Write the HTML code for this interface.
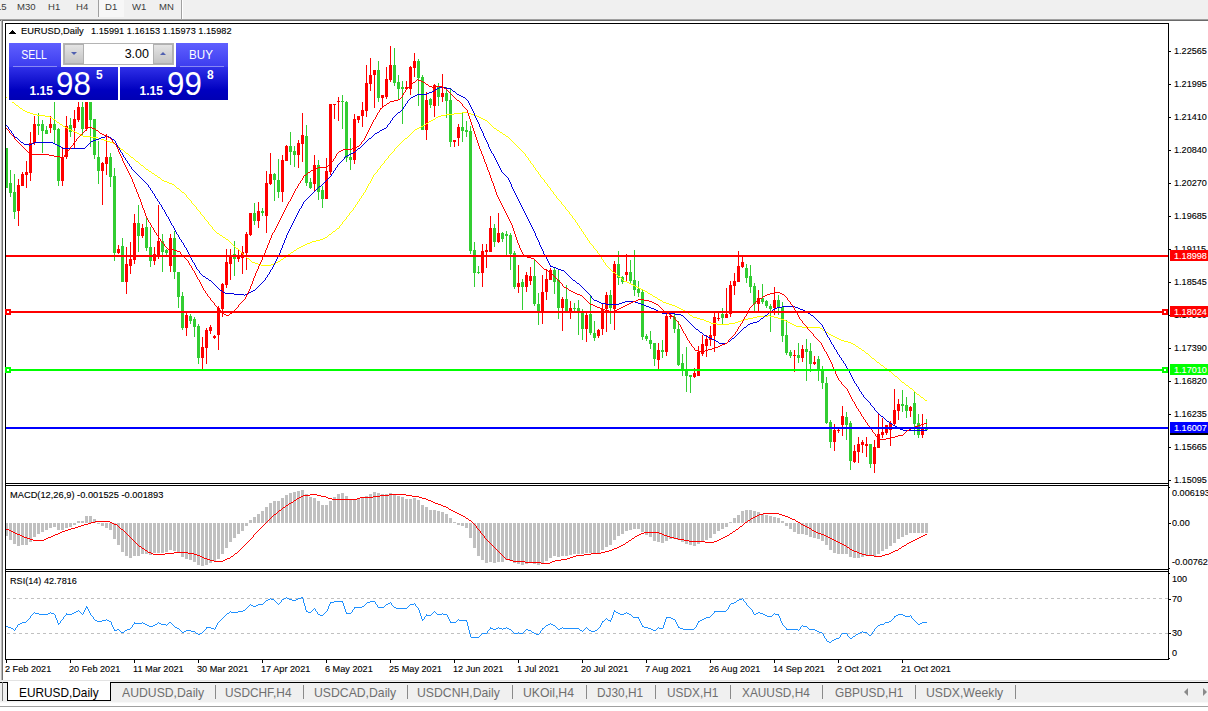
<!DOCTYPE html><html><head><meta charset="utf-8"><title>EURUSD,Daily</title><style>

*{margin:0;padding:0;box-sizing:border-box}
html,body{width:1208px;height:711px;overflow:hidden;background:#f0f0f0}
body{position:relative;font-family:"Liberation Sans",sans-serif;font-size:9.2px;color:#000}
.a{position:absolute;white-space:nowrap;line-height:1}
.ax{-webkit-text-stroke:0.12px #000;position:absolute;left:1173.6px;white-space:nowrap;line-height:10px;height:10px;font-size:9.9px;transform:scaleX(.92);transform-origin:0 50%}
.dt{-webkit-text-stroke:0.12px #000;position:absolute;top:663.67px;white-space:nowrap;line-height:10px;font-size:9.6px;transform:scaleX(.953);transform-origin:0 50%}
.tb{position:absolute;top:2.3px;font-size:9.8px;color:#3c3c3c;line-height:10px;white-space:nowrap;transform:scaleX(.975);transform-origin:0 50%}
.tab{position:absolute;top:686px;font-size:12.2px;line-height:14px;color:#6e6e6e;white-space:nowrap;transform:scaleX(.972);transform-origin:0 50%}
.st{-webkit-text-stroke:0.12px #000}
.sep{position:absolute;top:685px;width:1px;height:14px;background:#8a8a8a}
.pl{position:absolute;left:1170px;width:38px;height:11px;color:#fff;white-space:nowrap}
.pl span{-webkit-text-stroke:0.12px #fff;position:absolute;left:3.6px;top:0.65px;font-size:9.9px;line-height:10px;transform:scaleX(.92);transform-origin:0 50%}

</style></head><body>
<div class="a" style="left:0;top:0;width:1208px;height:19px;background:#f0f0f0"></div>
<div class="a" style="left:98px;top:0;width:26px;height:17px;background:#f7f7f7;border-left:1px solid #a0a0a0"></div>
<div class="tb" style="left:-4px">15</div>
<div class="tb" style="left:17.2px">M30</div>
<div class="tb" style="left:48px">H1</div>
<div class="tb" style="left:75.5px">H4</div>
<div class="tb" style="left:104.5px">D1</div>
<div class="tb" style="left:131.5px">W1</div>
<div class="tb" style="left:158.5px">MN</div>
<div class="a" style="left:181px;top:0;width:1px;height:19px;background:#a0a0a0"></div><div class="a" style="left:182px;top:0;width:1px;height:19px;background:#fff"></div>
<div class="a" style="left:0;top:19px;width:1208px;height:1px;background:#a0a0a0"></div>
<div class="a" style="left:0;top:20px;width:1208px;height:1px;background:#696969"></div>
<div class="a" style="left:3px;top:21px;width:1205px;height:659px;background:#fff"></div>
<div class="a" style="left:1px;top:20px;width:1px;height:660px;background:#b8b8b8"></div><div class="a" style="left:2px;top:20px;width:1px;height:660px;background:#707070"></div>
<svg width="1208" height="711" viewBox="0 0 1208 711" shape-rendering="crispEdges" style="position:absolute;left:0;top:0">
<defs><clipPath id="cm"><rect x="6" y="24" width="1162" height="459"/></clipPath><clipPath id="c2"><rect x="6" y="486" width="1162" height="83"/></clipPath><clipPath id="c3"><rect x="6" y="572" width="1162" height="87"/></clipPath></defs>
<g clip-path="url(#cm)">
<path fill="#32cd32" d="M6 148h1v40h-1zM5 148h3v40h-3zM10 170h1v27h-1zM9 183h3v10h-3zM14 174h1v45h-1zM13 192h3v20h-3zM38 113h1v22h-1zM37 124h3v2h-3zM42 120h1v33h-1zM41 124h3v7h-3zM46 126h1v8h-1zM45 130h3v4h-3zM54 102h1v41h-1zM53 124h3v6h-3zM58 128h1v58h-1zM57 129h3v52h-3zM70 118h1v19h-1zM69 125h3v7h-3zM82 101h1v35h-1zM81 107h3v22h-3zM90 98h1v49h-1zM89 100h3v20h-3zM94 119h1v40h-1zM93 119h3v36h-3zM98 141h1v43h-1zM97 157h3v14h-3zM110 153h1v34h-1zM109 157h3v20h-3zM114 168h1v93h-1zM113 176h3v77h-3zM122 238h1v44h-1zM121 246h3v36h-3zM138 205h1v47h-1zM137 223h3v13h-3zM146 218h1v33h-1zM145 227h3v21h-3zM150 227h1v40h-1zM149 247h3v14h-3zM162 234h1v38h-1zM161 241h3v11h-3zM166 249h1v8h-1zM165 250h3v3h-3zM174 231h1v48h-1zM173 238h3v34h-3zM178 272h1v36h-1zM177 272h3v25h-3zM182 292h1v38h-1zM181 296h3v32h-3zM190 314h1v10h-1zM189 316h3v5h-3zM194 317h1v20h-1zM193 319h3v8h-3zM198 324h1v40h-1zM197 326h3v32h-3zM234 241h1v35h-1zM233 254h3v5h-3zM254 203h1v22h-1zM253 213h3v8h-3zM262 208h1v8h-1zM261 211h3v2h-3zM274 173h1v28h-1zM273 174h3v6h-3zM278 159h1v39h-1zM277 180h3v12h-3zM290 132h1v33h-1zM289 146h3v6h-3zM294 146h1v21h-1zM293 151h3v4h-3zM306 125h1v61h-1zM305 136h3v47h-3zM310 178h1v11h-1zM309 182h3v6h-3zM318 160h1v40h-1zM317 165h3v27h-3zM322 186h1v22h-1zM321 190h3v9h-3zM342 95h1v34h-1zM341 101h3v1h-3zM346 101h1v61h-1zM345 102h3v56h-3zM350 138h1v32h-1zM349 157h3v3h-3zM378 61h1v41h-1zM377 70h3v28h-3zM394 48h1v38h-1zM393 65h3v18h-3zM398 75h1v24h-1zM397 82h3v7h-3zM402 81h1v43h-1zM401 87h3v2h-3zM418 59h1v47h-1zM417 61h3v17h-3zM422 75h1v55h-1zM421 77h3v53h-3zM430 98h1v10h-1zM429 99h3v6h-3zM438 83h1v23h-1zM437 86h3v11h-3zM446 87h1v31h-1zM445 93h3v8h-3zM450 88h1v59h-1zM449 100h3v42h-3zM462 113h1v29h-1zM461 127h3v4h-3zM466 121h1v16h-1zM465 130h3v2h-3zM470 126h1v128h-1zM469 131h3v120h-3zM474 242h1v45h-1zM473 250h3v23h-3zM478 266h1v8h-1zM477 272h3v1h-3zM494 224h1v23h-1zM493 228h3v14h-3zM502 232h1v10h-1zM501 233h3v6h-3zM506 231h1v25h-1zM505 234h3v2h-3zM510 233h1v37h-1zM509 235h3v19h-3zM514 251h1v38h-1zM513 253h3v34h-3zM522 279h1v31h-1zM521 282h3v5h-3zM534 260h1v46h-1zM533 276h3v28h-3zM538 293h1v32h-1zM537 304h3v9h-3zM554 267h1v27h-1zM553 270h3v12h-3zM558 269h1v50h-1zM557 280h3v28h-3zM566 285h1v27h-1zM565 299h3v12h-3zM574 303h1v10h-1zM573 308h3v1h-3zM578 300h1v35h-1zM577 308h3v4h-3zM582 309h1v31h-1zM581 311h3v18h-3zM590 296h1v39h-1zM589 314h3v19h-3zM594 321h1v20h-1zM593 333h3v5h-3zM610 290h1v34h-1zM609 295h3v13h-3zM618 251h1v34h-1zM617 264h3v14h-3zM622 276h1v8h-1zM621 277h3v5h-3zM630 260h1v24h-1zM629 272h3v9h-3zM634 250h1v46h-1zM633 280h3v10h-3zM638 281h1v16h-1zM637 289h3v4h-3zM642 290h1v50h-1zM641 292h3v45h-3zM646 334h1v7h-1zM645 336h3v3h-3zM650 331h1v18h-1zM649 340h3v4h-3zM654 343h1v23h-1zM653 343h3v16h-3zM662 340h1v18h-1zM661 350h3v2h-3zM674 313h1v20h-1zM673 317h3v12h-3zM678 321h1v45h-1zM677 329h3v36h-3zM682 354h1v22h-1zM681 363h3v7h-3zM686 347h1v45h-1zM685 369h3v7h-3zM690 375h1v18h-1zM689 375h3v2h-3zM722 308h1v16h-1zM721 314h3v4h-3zM746 264h1v19h-1zM745 268h3v10h-3zM750 265h1v28h-1zM749 276h3v11h-3zM754 283h1v30h-1zM753 286h3v18h-3zM762 284h1v20h-1zM761 298h3v4h-3zM766 300h1v8h-1zM765 301h3v5h-3zM770 304h1v28h-1zM769 306h3v3h-3zM778 295h1v20h-1zM777 300h3v8h-3zM782 302h1v40h-1zM781 307h3v29h-3zM786 320h1v35h-1zM785 335h3v18h-3zM790 350h1v8h-1zM789 352h3v4h-3zM798 343h1v20h-1zM797 355h3v3h-3zM806 339h1v42h-1zM805 349h3v3h-3zM810 343h1v29h-1zM809 351h3v13h-3zM818 356h1v25h-1zM817 359h3v11h-3zM822 366h1v23h-1zM821 369h3v14h-3zM826 377h1v47h-1zM825 383h3v40h-3zM830 420h1v28h-1zM829 422h3v20h-3zM846 412h1v28h-1zM845 417h3v8h-3zM850 421h1v49h-1zM849 423h3v38h-3zM870 444h1v24h-1zM869 444h3v20h-3zM902 390h1v22h-1zM901 404h3v2h-3zM906 397h1v21h-1zM905 405h3v6h-3zM914 391h1v44h-1zM913 403h3v21h-3zM918 414h1v24h-1zM917 423h3v12h-3zM926 419h1v12h-1zM925 428h3v2h-3z"/>
<path fill="#ff0000" d="M18 179h1v47h-1zM17 185h3v26h-3zM22 172h1v14h-1zM21 174h3v12h-3zM26 161h1v27h-1zM25 172h3v3h-3zM30 132h1v49h-1zM29 143h3v30h-3zM34 116h1v29h-1zM33 124h3v19h-3zM50 116h1v17h-1zM49 124h3v4h-3zM62 147h1v39h-1zM61 157h3v24h-3zM66 116h1v43h-1zM65 126h3v31h-3zM74 110h1v38h-1zM73 119h3v9h-3zM78 102h1v20h-1zM77 107h3v13h-3zM86 96h1v35h-1zM85 98h3v31h-3zM102 162h1v43h-1zM101 163h3v8h-3zM106 134h1v41h-1zM105 157h3v7h-3zM118 245h1v9h-1zM117 249h3v4h-3zM126 247h1v47h-1zM125 264h3v18h-3zM130 242h1v32h-1zM129 259h3v7h-3zM134 214h1v50h-1zM133 223h3v37h-3zM142 224h1v14h-1zM141 228h3v8h-3zM154 247h1v18h-1zM153 254h3v7h-3zM158 205h1v54h-1zM157 241h3v16h-3zM170 234h1v38h-1zM169 238h3v28h-3zM186 312h1v24h-1zM185 315h3v13h-3zM202 337h1v33h-1zM201 347h3v11h-3zM206 328h1v36h-1zM205 330h3v18h-3zM210 325h1v9h-1zM209 327h3v4h-3zM214 335h1v4h-1zM213 336h3v2h-3zM218 306h1v44h-1zM217 308h3v27h-3zM222 283h1v34h-1zM221 284h3v25h-3zM226 249h1v39h-1zM225 262h3v23h-3zM230 249h1v31h-1zM229 255h3v9h-3zM238 250h1v12h-1zM237 255h3v4h-3zM242 246h1v28h-1zM241 252h3v6h-3zM246 232h1v38h-1zM245 234h3v19h-3zM250 213h1v23h-1zM249 213h3v22h-3zM258 202h1v26h-1zM257 211h3v10h-3zM266 171h1v62h-1zM265 183h3v33h-3zM270 153h1v32h-1zM269 174h3v10h-3zM282 155h1v47h-1zM281 160h3v32h-3zM286 145h1v16h-1zM285 146h3v15h-3zM298 140h1v28h-1zM297 143h3v12h-3zM302 113h1v49h-1zM301 135h3v9h-3zM314 155h1v37h-1zM313 165h3v19h-3zM326 158h1v41h-1zM325 171h3v28h-3zM330 104h1v71h-1zM329 104h3v68h-3zM334 104h1v15h-1zM333 104h3v1h-3zM338 97h1v24h-1zM337 101h3v1h-3zM354 114h1v50h-1zM353 119h3v41h-3zM358 116h1v7h-1zM357 116h3v4h-3zM362 102h1v25h-1zM361 110h3v6h-3zM366 65h1v52h-1zM365 83h3v28h-3zM370 58h1v33h-1zM369 75h3v9h-3zM374 70h1v38h-1zM373 70h3v5h-3zM382 95h1v12h-1zM381 95h3v3h-3zM386 67h1v32h-1zM385 79h3v18h-3zM390 46h1v36h-1zM389 65h3v15h-3zM406 81h1v9h-1zM405 87h3v2h-3zM410 66h1v29h-1zM409 67h3v22h-3zM414 53h1v24h-1zM413 61h3v7h-3zM426 92h1v48h-1zM425 100h3v30h-3zM434 84h1v33h-1zM433 85h3v21h-3zM442 74h1v28h-1zM441 93h3v4h-3zM454 140h1v7h-1zM453 140h3v2h-3zM458 124h1v22h-1zM457 127h3v11h-3zM482 244h1v43h-1zM481 251h3v22h-3zM486 244h1v24h-1zM485 250h3v2h-3zM490 216h1v36h-1zM489 228h3v24h-3zM498 213h1v30h-1zM497 233h3v9h-3zM518 265h1v28h-1zM517 283h3v4h-3zM526 272h1v20h-1zM525 275h3v12h-3zM530 267h1v18h-1zM529 276h3v5h-3zM542 275h1v49h-1zM541 292h3v21h-3zM546 269h1v31h-1zM545 279h3v13h-3zM550 268h1v12h-1zM549 270h3v10h-3zM562 297h1v34h-1zM561 299h3v9h-3zM570 301h1v18h-1zM569 308h3v3h-3zM586 312h1v30h-1zM585 315h3v14h-3zM598 329h1v9h-1zM597 330h3v6h-3zM602 304h1v31h-1zM601 309h3v20h-3zM606 292h1v40h-1zM605 295h3v14h-3zM614 261h1v69h-1zM613 264h3v45h-3zM626 254h1v27h-1zM625 272h3v3h-3zM658 343h1v26h-1zM657 350h3v10h-3zM666 313h1v43h-1zM665 316h3v36h-3zM670 313h1v6h-1zM669 316h3v1h-3zM694 368h1v10h-1zM693 373h3v4h-3zM698 346h1v30h-1zM697 352h3v24h-3zM702 335h1v21h-1zM701 344h3v10h-3zM706 335h1v22h-1zM705 339h3v7h-3zM710 326h1v20h-1zM709 335h3v5h-3zM714 313h1v39h-1zM713 317h3v19h-3zM718 313h1v8h-1zM717 318h3v1h-3zM726 288h1v30h-1zM725 314h3v4h-3zM730 281h1v36h-1zM729 285h3v29h-3zM734 273h1v22h-1zM733 281h3v5h-3zM738 251h1v31h-1zM737 266h3v16h-3zM742 257h1v11h-1zM741 262h3v5h-3zM758 290h1v21h-1zM757 298h3v6h-3zM774 287h1v28h-1zM773 300h3v8h-3zM794 350h1v22h-1zM793 355h3v1h-3zM802 345h1v17h-1zM801 349h3v9h-3zM814 356h1v9h-1zM813 362h3v2h-3zM834 424h1v27h-1zM833 430h3v12h-3zM838 427h1v6h-1zM837 430h3v1h-3zM842 406h1v30h-1zM841 416h3v9h-3zM854 445h1v18h-1zM853 451h3v11h-3zM858 437h1v26h-1zM857 444h3v8h-3zM862 440h1v13h-1zM861 442h3v3h-3zM866 437h1v20h-1zM865 444h3v2h-3zM874 440h1v33h-1zM873 447h3v17h-3zM878 414h1v34h-1zM877 434h3v14h-3zM882 418h1v20h-1zM881 432h3v3h-3zM886 425h1v10h-1zM885 425h3v8h-3zM890 421h1v25h-1zM889 423h3v7h-3zM894 389h1v36h-1zM893 410h3v14h-3zM898 399h1v21h-1zM897 404h3v7h-3zM910 406h1v11h-1zM909 407h3v4h-3zM922 414h1v24h-1zM921 429h3v6h-3z"/>
<path fill="#ffff00" d="M6 97h2v1h-2zM8 98h1v1h-1zM9 99h1v1h-1zM10 100h1v1h-1zM11 101h1v1h-1zM12 102h2v1h-2zM14 103h1v1h-1zM15 104h1v1h-1zM16 105h2v1h-2zM18 106h1v1h-1zM19 107h1v1h-1zM20 108h2v1h-2zM22 109h1v1h-1zM23 110h2v1h-2zM25 111h2v1h-2zM27 112h3v1h-3zM30 113h3v1h-3zM33 114h4v1h-4zM37 115h8v1h-8zM45 116h5v1h-5zM50 117h2v1h-2zM52 118h1v1h-1zM53 119h2v1h-2zM55 120h1v1h-1zM56 121h1v1h-1zM57 122h2v1h-2zM59 123h1v1h-1zM60 124h2v1h-2zM62 125h1v1h-1zM63 126h2v1h-2zM65 127h2v1h-2zM67 128h2v1h-2zM69 129h2v1h-2zM71 130h2v1h-2zM73 131h2v1h-2zM75 132h2v1h-2zM77 133h2v1h-2zM79 134h2v1h-2zM81 135h2v1h-2zM83 136h8v1h-8zM91 137h7v1h-7zM98 138h3v1h-3zM101 139h3v1h-3zM104 140h3v1h-3zM107 141h3v1h-3zM110 142h3v1h-3zM113 143h2v1h-2zM115 144h1v1h-1zM116 145h2v1h-2zM118 146h1v1h-1zM119 147h1v1h-1zM120 148h1v1h-1zM121 149h2v1h-2zM123 150h1v1h-1zM124 151h1v1h-1zM125 152h1v1h-1zM126 153h2v1h-2zM128 154h1v1h-1zM129 155h1v1h-1zM130 156h1v1h-1zM131 157h2v1h-2zM133 158h1v1h-1zM134 159h1v1h-1zM135 160h1v1h-1zM136 161h2v1h-2zM138 162h1v1h-1zM139 163h1v1h-1zM140 164h1v1h-1zM141 165h2v1h-2zM143 166h1v1h-1zM144 167h1v1h-1zM145 168h1v1h-1zM146 169h2v1h-2zM148 170h1v1h-1zM149 171h2v1h-2zM151 172h1v1h-1zM152 173h2v1h-2zM154 174h1v1h-1zM155 175h2v1h-2zM157 176h1v1h-1zM158 177h2v1h-2zM160 178h1v1h-1zM161 179h1v1h-1zM162 180h2v1h-2zM164 181h3v1h-3zM167 182h2v1h-2zM169 183h3v1h-3zM172 184h2v1h-2zM174 185h1v1h-1zM175 186h1v1h-1zM176 187h1v1h-1zM177 188h2v1h-2zM179 189h1v1h-1zM180 190h1v1h-1zM181 191h1v1h-1zM182 192h2v1h-2zM184 193h1v1h-1zM185 194h1v1h-1zM186 195h1v2h-1zM187 197h1v1h-1zM188 198h1v1h-1zM189 199h1v1h-1zM190 200h1v1h-1zM191 201h1v2h-1zM192 203h1v1h-1zM193 204h1v1h-1zM194 205h1v1h-1zM195 206h1v1h-1zM196 207h1v2h-1zM197 209h1v1h-1zM198 210h1v1h-1zM199 211h1v1h-1zM200 212h1v2h-1zM201 214h1v1h-1zM202 215h1v1h-1zM203 216h1v1h-1zM204 217h1v2h-1zM205 219h1v1h-1zM206 220h1v1h-1zM207 221h1v1h-1zM208 222h1v2h-1zM209 224h1v1h-1zM210 225h1v1h-1zM211 226h1v1h-1zM212 227h1v2h-1zM213 229h1v1h-1zM214 230h1v1h-1zM215 231h1v1h-1zM216 232h1v1h-1zM217 233h2v1h-2zM219 234h1v1h-1zM220 235h2v1h-2zM222 236h1v1h-1zM223 237h2v1h-2zM225 238h1v1h-1zM226 239h2v1h-2zM228 240h1v1h-1zM229 241h1v1h-1zM230 242h1v1h-1zM231 243h1v1h-1zM232 244h1v1h-1zM233 245h1v1h-1zM234 246h1v1h-1zM235 247h1v1h-1zM236 248h2v1h-2zM238 249h1v1h-1zM239 250h1v1h-1zM240 251h1v1h-1zM241 252h1v1h-1zM242 253h1v1h-1zM243 254h1v1h-1zM244 255h1v1h-1zM245 256h1v1h-1zM246 257h1v1h-1zM247 258h2v1h-2zM249 259h1v1h-1zM250 260h1v1h-1zM251 261h1v1h-1zM252 262h3v1h-3zM255 263h3v1h-3zM258 264h3v1h-3zM261 265h10v1h-10zM271 264h3v1h-3zM274 263h2v1h-2zM276 262h2v1h-2zM278 261h2v1h-2zM280 260h1v1h-1zM281 259h2v1h-2zM283 258h1v1h-1zM284 257h2v1h-2zM286 256h1v1h-1zM287 255h1v1h-1zM288 254h2v1h-2zM290 253h1v1h-1zM291 252h2v1h-2zM293 251h1v1h-1zM294 250h2v1h-2zM296 249h1v1h-1zM297 248h2v1h-2zM299 247h2v1h-2zM301 246h2v1h-2zM303 245h2v1h-2zM305 244h2v1h-2zM307 243h3v1h-3zM310 242h2v1h-2zM312 241h4v1h-4zM316 240h4v1h-4zM320 239h3v1h-3zM323 238h2v1h-2zM325 237h2v1h-2zM327 236h1v1h-1zM328 235h1v1h-1zM329 234h2v1h-2zM331 233h1v1h-1zM332 232h1v1h-1zM333 231h2v1h-2zM335 230h1v1h-1zM336 229h1v1h-1zM337 228h2v1h-2zM339 226h1v2h-1zM340 225h1v1h-1zM341 224h1v1h-1zM342 222h1v2h-1zM343 221h1v1h-1zM344 220h1v1h-1zM345 219h1v1h-1zM346 217h1v2h-1zM347 216h1v1h-1zM348 215h1v1h-1zM349 213h1v2h-1zM350 212h1v1h-1zM351 211h1v1h-1zM352 210h1v1h-1zM353 208h1v2h-1zM354 207h1v1h-1zM355 205h1v2h-1zM356 204h1v1h-1zM357 202h1v2h-1zM358 201h1v1h-1zM359 199h1v2h-1zM360 198h1v1h-1zM361 196h1v2h-1zM362 195h1v1h-1zM363 193h1v2h-1zM364 192h1v1h-1zM365 190h1v2h-1zM366 188h1v2h-1zM367 186h1v2h-1zM368 184h1v2h-1zM369 183h1v1h-1zM370 181h1v2h-1zM371 179h1v2h-1zM372 177h1v2h-1zM373 175h1v2h-1zM374 174h1v1h-1zM375 173h1v1h-1zM376 172h1v1h-1zM377 170h1v2h-1zM378 169h1v1h-1zM379 168h1v1h-1zM380 166h1v2h-1zM381 165h1v1h-1zM382 164h1v1h-1zM383 163h1v1h-1zM384 161h1v2h-1zM385 160h1v1h-1zM386 159h1v1h-1zM387 158h1v1h-1zM388 156h1v2h-1zM389 155h1v1h-1zM390 154h1v1h-1zM391 153h1v1h-1zM392 152h1v1h-1zM393 151h1v1h-1zM394 149h1v2h-1zM395 148h1v1h-1zM396 147h1v1h-1zM397 146h1v1h-1zM398 145h1v1h-1zM399 144h1v1h-1zM400 143h1v1h-1zM401 142h1v1h-1zM402 141h1v1h-1zM403 140h1v1h-1zM404 139h1v1h-1zM405 138h2v1h-2zM407 137h1v1h-1zM408 136h1v1h-1zM409 135h1v1h-1zM410 134h1v1h-1zM411 133h1v1h-1zM412 132h1v1h-1zM413 131h1v1h-1zM414 130h1v1h-1zM415 129h2v1h-2zM417 128h2v1h-2zM419 127h2v1h-2zM421 126h2v1h-2zM423 125h2v1h-2zM425 124h1v1h-1zM426 123h2v1h-2zM428 122h1v1h-1zM429 121h2v1h-2zM431 120h2v1h-2zM433 119h2v1h-2zM435 118h1v1h-1zM436 117h2v1h-2zM438 116h3v1h-3zM441 115h5v1h-5zM446 114h8v1h-8zM454 113h8v1h-8zM462 112h6v1h-6zM468 113h3v1h-3zM471 114h3v1h-3zM474 115h3v1h-3zM477 116h2v1h-2zM479 117h2v1h-2zM481 118h2v1h-2zM483 119h2v1h-2zM485 120h2v1h-2zM487 121h1v1h-1zM488 122h1v1h-1zM489 123h1v1h-1zM490 124h1v1h-1zM491 125h1v1h-1zM492 126h1v1h-1zM493 127h1v1h-1zM494 128h2v1h-2zM496 129h1v1h-1zM497 130h2v1h-2zM499 131h1v1h-1zM500 132h2v1h-2zM502 133h1v1h-1zM503 134h2v1h-2zM505 135h1v1h-1zM506 136h2v1h-2zM508 137h1v1h-1zM509 138h1v1h-1zM510 139h1v1h-1zM511 140h1v1h-1zM512 141h1v1h-1zM513 142h1v1h-1zM514 143h1v1h-1zM515 144h1v1h-1zM516 145h1v1h-1zM517 146h1v1h-1zM518 147h1v1h-1zM519 148h1v1h-1zM520 149h1v1h-1zM521 150h1v1h-1zM522 151h1v1h-1zM523 152h1v1h-1zM524 153h1v1h-1zM525 154h1v2h-1zM526 156h1v1h-1zM527 157h1v1h-1zM528 158h1v2h-1zM529 160h1v1h-1zM530 161h1v2h-1zM531 163h1v1h-1zM532 164h1v1h-1zM533 165h1v2h-1zM534 167h1v1h-1zM535 168h1v2h-1zM536 170h1v1h-1zM537 171h1v1h-1zM538 172h1v2h-1zM539 174h1v1h-1zM540 175h1v2h-1zM541 177h1v1h-1zM542 178h1v1h-1zM543 179h1v1h-1zM544 180h1v2h-1zM545 182h1v1h-1zM546 183h1v1h-1zM547 184h1v2h-1zM548 186h1v1h-1zM549 187h1v1h-1zM550 188h1v2h-1zM551 190h1v1h-1zM552 191h1v1h-1zM553 192h1v2h-1zM554 194h1v1h-1zM555 195h1v1h-1zM556 196h1v2h-1zM557 198h1v1h-1zM558 199h1v1h-1zM559 200h1v1h-1zM560 201h1v1h-1zM561 202h1v2h-1zM562 204h1v1h-1zM563 205h1v1h-1zM564 206h1v1h-1zM565 207h1v2h-1zM566 209h1v1h-1zM567 210h1v1h-1zM568 211h1v1h-1zM569 212h1v2h-1zM570 214h1v1h-1zM571 215h1v1h-1zM572 216h1v2h-1zM573 218h1v1h-1zM574 219h1v1h-1zM575 220h1v2h-1zM576 222h1v1h-1zM577 223h1v2h-1zM578 225h1v1h-1zM579 226h1v2h-1zM580 228h1v1h-1zM581 229h1v2h-1zM582 231h1v1h-1zM583 232h1v2h-1zM584 234h1v1h-1zM585 235h1v2h-1zM586 237h1v1h-1zM587 238h1v2h-1zM588 240h1v1h-1zM589 241h1v2h-1zM590 243h1v1h-1zM591 244h1v1h-1zM592 245h1v1h-1zM593 246h1v2h-1zM594 248h1v1h-1zM595 249h1v1h-1zM596 250h1v1h-1zM597 251h1v2h-1zM598 253h1v1h-1zM599 254h1v2h-1zM600 256h1v1h-1zM601 257h1v2h-1zM602 259h1v1h-1zM603 260h1v2h-1zM604 262h1v1h-1zM605 263h1v2h-1zM606 265h1v1h-1zM607 266h1v1h-1zM608 267h1v1h-1zM609 268h1v1h-1zM610 269h1v1h-1zM611 270h1v1h-1zM612 271h1v1h-1zM613 272h2v1h-2zM615 273h1v1h-1zM616 274h1v1h-1zM617 275h1v1h-1zM618 276h2v1h-2zM620 277h1v1h-1zM621 278h1v1h-1zM622 279h1v1h-1zM623 280h1v1h-1zM624 281h3v1h-3zM627 282h2v1h-2zM629 283h2v1h-2zM631 284h2v1h-2zM633 285h2v1h-2zM635 286h2v1h-2zM637 287h2v1h-2zM639 288h2v1h-2zM641 289h2v1h-2zM643 290h2v1h-2zM645 291h2v1h-2zM647 292h1v1h-1zM648 293h2v1h-2zM650 294h2v1h-2zM652 295h1v1h-1zM653 296h2v1h-2zM655 297h2v1h-2zM657 298h1v1h-1zM658 299h2v1h-2zM660 300h2v1h-2zM662 301h1v1h-1zM663 302h3v1h-3zM666 303h3v1h-3zM669 304h3v1h-3zM672 305h3v1h-3zM675 306h2v1h-2zM677 307h2v1h-2zM679 308h2v1h-2zM681 309h2v1h-2zM683 310h2v1h-2zM685 311h1v1h-1zM686 312h2v1h-2zM688 313h1v1h-1zM689 314h1v1h-1zM690 315h2v1h-2zM692 316h1v1h-1zM693 317h4v1h-4zM697 318h3v1h-3zM700 319h4v1h-4zM704 320h2v1h-2zM706 321h3v1h-3zM709 322h2v1h-2zM711 323h6v1h-6zM717 324h12v1h-12zM729 323h6v1h-6zM735 322h3v1h-3zM738 321h3v1h-3zM741 320h3v1h-3zM744 319h4v1h-4zM748 318h5v1h-5zM753 317h4v1h-4zM757 316h11v1h-11zM768 315h2v1h-2zM770 316h4v1h-4zM774 317h4v1h-4zM778 318h3v1h-3zM781 319h3v1h-3zM784 320h2v1h-2zM786 321h2v1h-2zM788 322h2v1h-2zM790 323h2v1h-2zM792 324h2v1h-2zM794 325h2v1h-2zM796 326h6v1h-6zM802 327h18v1h-18zM820 328h2v1h-2zM822 329h1v1h-1zM823 330h2v1h-2zM825 331h1v1h-1zM826 332h2v1h-2zM828 333h1v1h-1zM829 334h2v1h-2zM831 335h2v1h-2zM833 336h2v1h-2zM835 337h2v1h-2zM837 338h2v1h-2zM839 339h2v1h-2zM841 340h3v1h-3zM844 341h4v1h-4zM848 342h3v1h-3zM851 343h2v1h-2zM853 344h2v1h-2zM855 345h1v1h-1zM856 346h2v1h-2zM858 347h1v1h-1zM859 348h2v1h-2zM861 349h1v1h-1zM862 350h2v1h-2zM864 351h1v1h-1zM865 352h1v1h-1zM866 353h2v1h-2zM868 354h1v1h-1zM869 355h1v1h-1zM870 356h1v1h-1zM871 357h1v1h-1zM872 358h2v1h-2zM874 359h1v1h-1zM875 360h1v1h-1zM876 361h1v1h-1zM877 362h2v1h-2zM879 363h1v1h-1zM880 364h1v1h-1zM881 365h2v1h-2zM883 366h1v1h-1zM884 367h1v1h-1zM885 368h2v1h-2zM887 369h1v1h-1zM888 370h1v1h-1zM889 371h2v1h-2zM891 372h1v1h-1zM892 373h1v1h-1zM893 374h1v1h-1zM894 375h1v1h-1zM895 376h2v1h-2zM897 377h1v1h-1zM898 378h1v1h-1zM899 379h1v1h-1zM900 380h1v1h-1zM901 381h1v1h-1zM902 382h2v1h-2zM904 383h1v1h-1zM905 384h1v1h-1zM906 385h2v1h-2zM908 386h1v1h-1zM909 387h1v1h-1zM910 388h2v1h-2zM912 389h1v1h-1zM913 390h1v1h-1zM914 391h1v1h-1zM915 392h1v1h-1zM916 393h1v1h-1zM917 394h2v1h-2zM919 395h1v1h-1zM920 396h1v1h-1zM921 397h2v1h-2zM923 398h1v1h-1zM924 399h1v1h-1zM925 400h2v1h-2z"/>
<path fill="#0000e0" d="M6 125h1v1h-1zM7 126h1v1h-1zM8 127h1v2h-1zM9 129h1v1h-1zM10 130h1v1h-1zM11 131h1v2h-1zM12 133h1v1h-1zM13 134h1v2h-1zM14 136h1v1h-1zM15 137h2v1h-2zM17 138h1v1h-1zM18 139h1v1h-1zM19 140h1v1h-1zM20 141h1v1h-1zM21 142h2v1h-2zM23 143h1v1h-1zM24 144h5v1h-5zM29 145h1v1h-1zM30 144h2v1h-2zM32 143h2v1h-2zM34 142h19v1h-19zM53 143h2v1h-2zM55 144h2v1h-2zM57 145h2v1h-2zM59 146h2v1h-2zM61 147h1v1h-1zM62 148h23v1h-23zM85 147h1v1h-1zM86 146h1v1h-1zM87 145h1v1h-1zM88 144h1v1h-1zM89 143h1v1h-1zM90 142h1v1h-1zM91 141h2v1h-2zM93 140h3v1h-3zM96 139h3v1h-3zM99 138h2v1h-2zM101 137h4v1h-4zM105 136h4v1h-4zM109 137h2v1h-2zM111 138h1v1h-1zM112 139h2v1h-2zM114 140h1v1h-1zM115 141h1v2h-1zM116 143h1v2h-1zM117 145h1v2h-1zM118 147h1v1h-1zM119 148h1v2h-1zM120 150h1v2h-1zM121 152h1v1h-1zM122 153h1v2h-1zM123 155h1v2h-1zM124 157h1v1h-1zM125 158h1v2h-1zM126 160h1v1h-1zM127 161h1v2h-1zM128 163h1v1h-1zM129 164h1v2h-1zM130 166h1v1h-1zM131 167h1v2h-1zM132 169h1v1h-1zM133 170h1v1h-1zM134 171h1v1h-1zM135 172h1v1h-1zM136 173h1v1h-1zM137 174h1v1h-1zM138 175h1v1h-1zM139 176h1v1h-1zM140 177h1v1h-1zM141 178h1v1h-1zM142 179h1v1h-1zM143 180h1v1h-1zM144 181h1v1h-1zM145 182h1v1h-1zM146 183h1v1h-1zM147 184h1v1h-1zM148 185h1v2h-1zM149 187h1v1h-1zM150 188h1v2h-1zM151 190h1v1h-1zM152 191h1v2h-1zM153 193h1v1h-1zM154 194h1v2h-1zM155 196h1v2h-1zM156 198h1v1h-1zM157 199h1v2h-1zM158 201h1v1h-1zM159 202h1v2h-1zM160 204h1v1h-1zM161 205h1v2h-1zM162 207h1v2h-1zM163 209h1v1h-1zM164 210h1v2h-1zM165 212h1v2h-1zM166 214h1v2h-1zM167 216h1v1h-1zM168 217h1v2h-1zM169 219h1v2h-1zM170 221h1v2h-1zM171 223h1v2h-1zM172 225h1v1h-1zM173 226h1v2h-1zM174 228h1v2h-1zM175 230h1v2h-1zM176 232h1v2h-1zM177 234h1v1h-1zM178 235h1v2h-1zM179 237h1v2h-1zM180 239h1v1h-1zM181 240h1v2h-1zM182 242h1v1h-1zM183 243h1v2h-1zM184 245h1v2h-1zM185 247h1v1h-1zM186 248h1v2h-1zM187 250h1v2h-1zM188 252h1v2h-1zM189 254h1v2h-1zM190 256h1v2h-1zM191 258h1v2h-1zM192 260h1v2h-1zM193 262h1v1h-1zM194 263h1v2h-1zM195 265h1v2h-1zM196 267h1v2h-1zM197 269h1v1h-1zM198 270h1v1h-1zM199 271h1v2h-1zM200 273h1v1h-1zM201 274h1v1h-1zM202 275h1v1h-1zM203 276h2v1h-2zM205 277h1v1h-1zM206 278h2v1h-2zM208 279h1v1h-1zM209 280h2v1h-2zM211 281h1v1h-1zM212 282h1v1h-1zM213 283h1v1h-1zM214 284h1v1h-1zM215 285h1v1h-1zM216 286h1v1h-1zM217 287h1v1h-1zM218 288h1v1h-1zM219 289h1v1h-1zM220 290h2v1h-2zM222 291h1v1h-1zM223 292h2v1h-2zM225 293h9v1h-9zM234 294h10v1h-10zM244 295h1v1h-1zM245 294h2v1h-2zM247 293h2v1h-2zM249 292h2v1h-2zM251 291h2v1h-2zM253 290h2v1h-2zM255 289h1v1h-1zM256 288h1v1h-1zM257 287h1v1h-1zM258 286h1v1h-1zM259 285h1v1h-1zM260 284h1v1h-1zM261 283h1v1h-1zM262 282h1v1h-1zM263 281h1v1h-1zM264 280h1v1h-1zM265 278h1v2h-1zM266 277h1v1h-1zM267 275h1v2h-1zM268 274h1v1h-1zM269 272h1v2h-1zM270 270h1v2h-1zM271 269h1v1h-1zM272 267h1v2h-1zM273 265h1v2h-1zM274 263h1v2h-1zM275 261h1v2h-1zM276 259h1v2h-1zM277 257h1v2h-1zM278 255h1v2h-1zM279 253h1v2h-1zM280 250h1v3h-1zM281 248h1v2h-1zM282 245h1v3h-1zM283 243h1v2h-1zM284 240h1v3h-1zM285 238h1v2h-1zM286 235h1v3h-1zM287 233h1v2h-1zM288 231h1v2h-1zM289 229h1v2h-1zM290 227h1v2h-1zM291 225h1v2h-1zM292 223h1v2h-1zM293 221h1v2h-1zM294 219h1v2h-1zM295 217h1v2h-1zM296 215h1v2h-1zM297 213h1v2h-1zM298 211h1v2h-1zM299 209h1v2h-1zM300 208h1v1h-1zM301 206h1v2h-1zM302 204h1v2h-1zM303 202h1v2h-1zM304 201h1v1h-1zM305 200h1v1h-1zM306 199h1v1h-1zM307 198h1v1h-1zM308 197h1v1h-1zM309 196h1v1h-1zM310 195h1v1h-1zM311 194h1v1h-1zM312 193h1v1h-1zM313 192h1v1h-1zM314 191h1v1h-1zM315 190h1v1h-1zM316 189h1v1h-1zM317 188h1v1h-1zM318 187h1v1h-1zM319 186h2v1h-2zM321 185h1v1h-1zM322 184h1v1h-1zM323 183h1v1h-1zM324 182h1v1h-1zM325 181h1v1h-1zM326 180h1v1h-1zM327 179h1v1h-1zM328 178h1v1h-1zM329 177h1v1h-1zM330 176h1v1h-1zM331 174h1v2h-1zM332 173h1v1h-1zM333 171h1v2h-1zM334 170h1v1h-1zM335 168h1v2h-1zM336 167h1v1h-1zM337 165h1v2h-1zM338 164h1v1h-1zM339 163h1v1h-1zM340 162h1v1h-1zM341 161h1v1h-1zM342 160h1v1h-1zM343 159h1v1h-1zM344 157h1v2h-1zM345 156h2v1h-2zM347 155h2v1h-2zM349 154h2v1h-2zM351 153h2v1h-2zM353 152h2v1h-2zM355 151h1v1h-1zM356 150h1v1h-1zM357 149h1v1h-1zM358 148h2v1h-2zM360 147h1v1h-1zM361 146h1v1h-1zM362 145h1v1h-1zM363 144h1v1h-1zM364 143h1v1h-1zM365 142h1v1h-1zM366 141h1v1h-1zM367 140h1v1h-1zM368 139h1v1h-1zM369 138h2v1h-2zM371 137h1v1h-1zM372 136h1v1h-1zM373 135h1v1h-1zM374 134h1v1h-1zM375 133h2v1h-2zM377 132h2v1h-2zM379 131h1v1h-1zM380 130h2v1h-2zM382 129h2v1h-2zM384 128h2v1h-2zM386 127h1v1h-1zM387 125h1v2h-1zM388 124h1v1h-1zM389 123h1v1h-1zM390 121h1v2h-1zM391 120h1v1h-1zM392 118h1v2h-1zM393 117h1v1h-1zM394 116h1v1h-1zM395 115h1v1h-1zM396 114h1v1h-1zM397 113h1v1h-1zM398 112h2v1h-2zM400 111h1v1h-1zM401 110h1v1h-1zM402 109h1v1h-1zM403 107h1v2h-1zM404 106h1v1h-1zM405 104h1v2h-1zM406 103h1v1h-1zM407 101h1v2h-1zM408 100h1v1h-1zM409 99h1v1h-1zM410 98h1v1h-1zM411 97h2v1h-2zM413 96h2v1h-2zM415 95h2v1h-2zM417 94h10v1h-10zM427 93h2v1h-2zM429 92h3v1h-3zM432 91h2v1h-2zM434 90h1v1h-1zM435 89h2v1h-2zM437 88h2v1h-2zM439 87h7v1h-7zM446 88h5v1h-5zM451 89h1v1h-1zM452 90h1v1h-1zM453 91h2v1h-2zM455 92h1v1h-1zM456 93h1v1h-1zM457 94h2v1h-2zM459 95h2v1h-2zM461 96h2v1h-2zM463 97h2v1h-2zM465 98h1v1h-1zM466 99h1v1h-1zM467 100h1v1h-1zM468 101h1v2h-1zM469 103h1v2h-1zM470 105h1v2h-1zM471 107h1v2h-1zM472 109h1v2h-1zM473 111h1v2h-1zM474 113h1v3h-1zM475 116h1v2h-1zM476 118h1v2h-1zM477 120h1v2h-1zM478 122h1v2h-1zM479 124h1v3h-1zM480 127h1v2h-1zM481 129h1v2h-1zM482 131h1v2h-1zM483 133h1v3h-1zM484 136h1v2h-1zM485 138h1v2h-1zM486 140h1v2h-1zM487 142h1v2h-1zM488 144h1v3h-1zM489 147h1v2h-1zM490 149h1v2h-1zM491 151h1v2h-1zM492 153h1v1h-1zM493 154h1v2h-1zM494 156h1v2h-1zM495 158h1v2h-1zM496 160h1v2h-1zM497 162h1v2h-1zM498 164h1v2h-1zM499 166h1v2h-1zM500 168h1v2h-1zM501 170h1v2h-1zM502 172h1v1h-1zM503 173h1v1h-1zM504 174h1v1h-1zM505 175h1v1h-1zM506 176h1v1h-1zM507 177h1v1h-1zM508 178h1v2h-1zM509 180h1v2h-1zM510 182h1v2h-1zM511 184h1v3h-1zM512 187h1v2h-1zM513 189h1v2h-1zM514 191h1v2h-1zM515 193h1v2h-1zM516 195h1v2h-1zM517 197h1v2h-1zM518 199h1v2h-1zM519 201h1v2h-1zM520 203h1v2h-1zM521 205h1v2h-1zM522 207h1v2h-1zM523 209h1v2h-1zM524 211h1v2h-1zM525 213h1v2h-1zM526 215h1v2h-1zM527 217h1v2h-1zM528 219h1v2h-1zM529 221h1v2h-1zM530 223h1v2h-1zM531 225h1v2h-1zM532 227h1v2h-1zM533 229h1v2h-1zM534 231h1v2h-1zM535 233h1v3h-1zM536 236h1v2h-1zM537 238h1v2h-1zM538 240h1v2h-1zM539 242h1v3h-1zM540 245h1v2h-1zM541 247h1v2h-1zM542 249h1v2h-1zM543 251h1v3h-1zM544 254h1v2h-1zM545 256h1v1h-1zM546 257h1v2h-1zM547 259h1v2h-1zM548 261h1v2h-1zM549 263h1v2h-1zM550 265h1v2h-1zM551 266h2v1h-2zM553 267h3v1h-3zM556 268h2v1h-2zM558 269h3v1h-3zM561 270h3v1h-3zM564 271h1v1h-1zM565 272h1v1h-1zM566 273h1v1h-1zM567 274h1v1h-1zM568 275h1v1h-1zM569 276h1v1h-1zM570 277h1v1h-1zM571 278h1v1h-1zM572 279h1v1h-1zM573 280h2v1h-2zM575 281h1v1h-1zM576 282h1v1h-1zM577 283h2v1h-2zM579 284h1v1h-1zM580 285h1v1h-1zM581 286h1v1h-1zM582 287h1v1h-1zM583 288h1v1h-1zM584 289h1v1h-1zM585 290h1v1h-1zM586 291h1v1h-1zM587 292h1v1h-1zM588 293h1v1h-1zM589 294h1v1h-1zM590 295h1v1h-1zM591 296h1v2h-1zM592 298h1v1h-1zM593 299h1v1h-1zM594 300h3v1h-3zM597 301h2v1h-2zM599 302h2v1h-2zM601 303h5v1h-5zM606 304h13v1h-13zM619 303h3v1h-3zM622 302h3v1h-3zM625 301h10v1h-10zM635 302h3v1h-3zM638 303h3v1h-3zM641 304h3v1h-3zM644 305h2v1h-2zM646 306h3v1h-3zM649 307h2v1h-2zM651 308h3v1h-3zM654 309h2v1h-2zM656 310h2v1h-2zM658 311h2v1h-2zM660 312h2v1h-2zM662 313h13v1h-13zM675 314h6v1h-6zM681 315h2v1h-2zM683 316h1v1h-1zM684 317h1v1h-1zM685 318h1v1h-1zM686 319h1v1h-1zM687 320h1v1h-1zM688 321h1v1h-1zM689 322h1v1h-1zM690 323h1v1h-1zM691 324h1v1h-1zM692 325h1v1h-1zM693 326h1v1h-1zM694 327h1v1h-1zM695 328h1v1h-1zM696 329h2v1h-2zM698 330h1v1h-1zM699 331h1v1h-1zM700 332h2v1h-2zM702 333h1v1h-1zM703 334h1v1h-1zM704 335h2v1h-2zM706 336h2v1h-2zM708 337h2v1h-2zM710 338h2v1h-2zM712 339h2v1h-2zM714 340h2v1h-2zM716 341h2v1h-2zM718 342h1v1h-1zM719 343h8v1h-8zM727 342h1v1h-1zM728 341h2v1h-2zM730 340h1v1h-1zM731 339h1v1h-1zM732 338h2v1h-2zM734 337h1v1h-1zM735 336h1v1h-1zM736 335h1v1h-1zM737 334h1v1h-1zM738 333h1v1h-1zM739 332h1v1h-1zM740 331h1v1h-1zM741 330h1v1h-1zM742 329h1v1h-1zM743 328h1v1h-1zM744 327h2v1h-2zM746 326h1v1h-1zM747 325h1v1h-1zM748 324h2v1h-2zM750 323h3v1h-3zM753 322h4v1h-4zM757 321h2v1h-2zM759 320h1v1h-1zM760 319h1v1h-1zM761 318h2v1h-2zM763 317h1v1h-1zM764 316h1v1h-1zM765 315h2v1h-2zM767 314h1v1h-1zM768 313h1v1h-1zM769 312h1v1h-1zM770 311h2v1h-2zM772 310h1v1h-1zM773 309h2v1h-2zM775 308h2v1h-2zM777 307h5v1h-5zM782 306h13v1h-13zM795 307h3v1h-3zM798 308h2v1h-2zM800 309h3v1h-3zM803 310h2v1h-2zM805 311h1v1h-1zM806 312h2v1h-2zM808 313h2v1h-2zM810 314h1v1h-1zM811 315h2v1h-2zM813 316h1v1h-1zM814 317h1v1h-1zM815 318h1v1h-1zM816 319h1v1h-1zM817 320h1v1h-1zM818 321h1v1h-1zM819 322h1v1h-1zM820 323h1v1h-1zM821 324h1v1h-1zM822 325h1v2h-1zM823 327h1v2h-1zM824 329h1v2h-1zM825 331h1v2h-1zM826 333h1v2h-1zM827 335h1v2h-1zM828 337h1v1h-1zM829 338h1v2h-1zM830 340h1v2h-1zM831 342h1v2h-1zM832 344h1v1h-1zM833 345h1v2h-1zM834 347h1v2h-1zM835 349h1v1h-1zM836 350h1v2h-1zM837 352h1v2h-1zM838 354h1v1h-1zM839 355h1v2h-1zM840 357h1v1h-1zM841 358h1v2h-1zM842 360h1v1h-1zM843 361h1v2h-1zM844 363h1v1h-1zM845 364h1v2h-1zM846 366h1v2h-1zM847 368h1v2h-1zM848 370h1v1h-1zM849 371h1v2h-1zM850 373h1v2h-1zM851 375h1v2h-1zM852 377h1v2h-1zM853 379h1v2h-1zM854 381h1v2h-1zM855 383h1v1h-1zM856 384h1v2h-1zM857 386h1v1h-1zM858 387h1v2h-1zM859 389h1v2h-1zM860 391h1v1h-1zM861 392h1v2h-1zM862 394h1v1h-1zM863 395h1v2h-1zM864 397h1v1h-1zM865 398h1v1h-1zM866 399h1v1h-1zM867 400h1v1h-1zM868 401h1v1h-1zM869 402h1v1h-1zM870 403h1v2h-1zM871 405h1v1h-1zM872 406h1v1h-1zM873 407h1v1h-1zM874 408h1v2h-1zM875 410h1v1h-1zM876 411h1v1h-1zM877 412h1v1h-1zM878 413h1v1h-1zM879 414h1v1h-1zM880 415h1v1h-1zM881 416h2v1h-2zM883 417h1v1h-1zM884 418h1v1h-1zM885 419h1v1h-1zM886 420h1v1h-1zM887 421h2v1h-2zM889 422h1v1h-1zM890 423h2v1h-2zM892 424h1v1h-1zM893 425h2v1h-2zM895 426h2v1h-2zM897 427h1v1h-1zM898 428h2v1h-2zM900 429h3v1h-3zM903 430h24v1h-24z"/>
<path fill="#ff0000" d="M6 128h1v1h-1zM7 129h1v1h-1zM8 130h1v1h-1zM9 131h1v2h-1zM10 133h1v1h-1zM11 134h1v1h-1zM12 135h1v1h-1zM13 136h1v1h-1zM14 137h1v2h-1zM15 139h1v1h-1zM16 140h1v1h-1zM17 141h1v1h-1zM18 142h1v1h-1zM19 143h1v1h-1zM20 144h1v1h-1zM21 145h1v1h-1zM22 146h1v1h-1zM23 147h1v1h-1zM24 148h1v1h-1zM25 149h1v1h-1zM26 150h1v1h-1zM27 151h1v1h-1zM28 152h2v1h-2zM30 153h1v1h-1zM31 154h18v1h-18zM49 155h5v1h-5zM54 156h6v1h-6zM60 157h4v1h-4zM64 155h1v2h-1zM65 154h1v1h-1zM66 153h1v1h-1zM67 151h1v2h-1zM68 150h1v1h-1zM69 149h1v1h-1zM70 147h1v2h-1zM71 146h1v1h-1zM72 145h1v1h-1zM73 143h1v2h-1zM74 142h1v1h-1zM75 141h1v1h-1zM76 139h1v2h-1zM77 138h1v1h-1zM78 137h1v1h-1zM79 136h1v1h-1zM80 135h1v1h-1zM81 134h1v1h-1zM82 133h1v1h-1zM83 132h1v1h-1zM84 131h1v1h-1zM85 130h1v1h-1zM86 129h1v1h-1zM87 128h1v1h-1zM88 127h4v1h-4zM92 128h3v1h-3zM95 129h1v1h-1zM96 130h2v1h-2zM98 131h1v1h-1zM99 132h1v1h-1zM100 133h2v1h-2zM102 134h2v1h-2zM104 135h2v1h-2zM106 136h2v1h-2zM108 137h2v1h-2zM110 138h1v1h-1zM111 139h1v1h-1zM112 140h1v2h-1zM113 142h1v1h-1zM114 143h1v1h-1zM115 144h1v1h-1zM116 145h1v2h-1zM117 147h1v2h-1zM118 149h1v3h-1zM119 152h1v2h-1zM120 154h1v2h-1zM121 156h1v2h-1zM122 158h1v3h-1zM123 161h1v2h-1zM124 163h1v2h-1zM125 165h1v2h-1zM126 167h1v2h-1zM127 169h1v2h-1zM128 171h1v2h-1zM129 173h1v2h-1zM130 175h1v2h-1zM131 177h1v2h-1zM132 179h1v3h-1zM133 182h1v2h-1zM134 184h1v3h-1zM135 187h1v2h-1zM136 189h1v3h-1zM137 192h1v2h-1zM138 194h1v3h-1zM139 197h1v2h-1zM140 199h1v3h-1zM141 202h1v3h-1zM142 205h1v3h-1zM143 208h1v2h-1zM144 210h1v3h-1zM145 213h1v3h-1zM146 216h1v2h-1zM147 218h1v2h-1zM148 220h1v2h-1zM149 222h1v1h-1zM150 223h1v2h-1zM151 225h1v2h-1zM152 227h1v1h-1zM153 228h1v2h-1zM154 230h1v2h-1zM155 232h1v1h-1zM156 233h1v2h-1zM157 235h1v1h-1zM158 236h1v2h-1zM159 238h1v1h-1zM160 239h1v2h-1zM161 241h1v1h-1zM162 242h1v1h-1zM163 243h1v1h-1zM164 244h1v2h-1zM165 246h1v1h-1zM166 247h1v1h-1zM167 248h1v1h-1zM168 249h6v1h-6zM174 250h3v1h-3zM177 251h3v1h-3zM180 252h1v2h-1zM181 254h1v1h-1zM182 255h1v1h-1zM183 256h1v1h-1zM184 257h1v1h-1zM185 258h1v1h-1zM186 259h1v1h-1zM187 260h1v1h-1zM188 261h1v2h-1zM189 263h1v2h-1zM190 265h1v1h-1zM191 266h1v2h-1zM192 268h1v2h-1zM193 270h1v1h-1zM194 271h1v2h-1zM195 273h1v2h-1zM196 275h1v2h-1zM197 277h1v2h-1zM198 279h1v1h-1zM199 280h1v2h-1zM200 282h1v2h-1zM201 284h1v2h-1zM202 286h1v2h-1zM203 288h1v2h-1zM204 290h1v1h-1zM205 291h1v2h-1zM206 293h1v1h-1zM207 294h1v2h-1zM208 296h1v1h-1zM209 297h1v1h-1zM210 298h1v2h-1zM211 300h1v1h-1zM212 301h1v1h-1zM213 302h1v1h-1zM214 303h1v2h-1zM215 305h1v1h-1zM216 306h1v1h-1zM217 307h1v1h-1zM218 308h1v1h-1zM219 309h1v1h-1zM220 310h1v1h-1zM221 311h1v1h-1zM222 312h1v1h-1zM223 313h1v1h-1zM224 314h2v1h-2zM226 315h3v1h-3zM229 314h1v1h-1zM230 313h2v1h-2zM232 312h1v1h-1zM233 311h1v1h-1zM234 310h1v1h-1zM235 309h1v1h-1zM236 308h1v1h-1zM237 307h1v1h-1zM238 305h1v2h-1zM239 304h1v1h-1zM240 303h1v1h-1zM241 302h1v1h-1zM242 301h1v1h-1zM243 300h1v1h-1zM244 299h1v1h-1zM245 297h1v2h-1zM246 295h1v2h-1zM247 293h1v2h-1zM248 291h1v2h-1zM249 289h1v2h-1zM250 286h1v3h-1zM251 284h1v2h-1zM252 281h1v3h-1zM253 278h1v3h-1zM254 276h1v2h-1zM255 273h1v3h-1zM256 271h1v2h-1zM257 269h1v2h-1zM258 266h1v3h-1zM259 264h1v2h-1zM260 262h1v2h-1zM261 260h1v2h-1zM262 257h1v3h-1zM263 255h1v2h-1zM264 253h1v2h-1zM265 250h1v3h-1zM266 248h1v2h-1zM267 245h1v3h-1zM268 243h1v2h-1zM269 240h1v3h-1zM270 238h1v2h-1zM271 235h1v3h-1zM272 233h1v2h-1zM273 232h1v1h-1zM274 230h1v2h-1zM275 228h1v2h-1zM276 226h1v2h-1zM277 224h1v2h-1zM278 222h1v2h-1zM279 220h1v2h-1zM280 218h1v2h-1zM281 216h1v2h-1zM282 214h1v2h-1zM283 212h1v2h-1zM284 210h1v2h-1zM285 208h1v2h-1zM286 206h1v2h-1zM287 204h1v2h-1zM288 202h1v2h-1zM289 201h1v1h-1zM290 199h1v2h-1zM291 197h1v2h-1zM292 195h1v2h-1zM293 193h1v2h-1zM294 191h1v2h-1zM295 189h1v2h-1zM296 188h1v1h-1zM297 186h1v2h-1zM298 184h1v2h-1zM299 183h1v1h-1zM300 181h1v2h-1zM301 180h1v1h-1zM302 178h1v2h-1zM303 176h1v2h-1zM304 175h2v1h-2zM306 174h1v1h-1zM307 173h1v1h-1zM308 172h2v1h-2zM310 171h1v1h-1zM311 170h2v1h-2zM313 169h2v1h-2zM315 168h3v1h-3zM318 167h9v1h-9zM327 166h1v1h-1zM328 165h1v1h-1zM329 164h1v1h-1zM330 163h1v1h-1zM331 162h1v1h-1zM332 161h1v1h-1zM333 159h1v2h-1zM334 158h1v1h-1zM335 156h1v2h-1zM336 154h1v2h-1zM337 153h1v1h-1zM338 152h1v1h-1zM339 151h2v1h-2zM341 150h2v1h-2zM343 149h9v1h-9zM352 148h3v1h-3zM355 147h2v1h-2zM357 146h2v1h-2zM359 145h1v1h-1zM360 144h1v1h-1zM361 142h1v2h-1zM362 141h1v1h-1zM363 140h1v1h-1zM364 138h1v2h-1zM365 136h1v2h-1zM366 134h1v2h-1zM367 132h1v2h-1zM368 130h1v2h-1zM369 128h1v2h-1zM370 126h1v2h-1zM371 124h1v2h-1zM372 122h1v2h-1zM373 120h1v2h-1zM374 119h1v1h-1zM375 117h1v2h-1zM376 115h1v2h-1zM377 113h1v2h-1zM378 112h1v1h-1zM379 110h1v2h-1zM380 108h1v2h-1zM381 108h1v1h-1zM382 107h1v1h-1zM383 106h1v1h-1zM384 105h2v1h-2zM386 104h1v1h-1zM387 103h2v1h-2zM389 102h1v1h-1zM390 101h4v1h-4zM394 100h4v1h-4zM398 99h2v1h-2zM400 98h1v1h-1zM401 97h1v1h-1zM402 95h1v2h-1zM403 93h1v2h-1zM404 92h1v1h-1zM405 90h1v2h-1zM406 89h1v1h-1zM407 88h1v1h-1zM408 87h1v1h-1zM409 86h1v1h-1zM410 85h1v1h-1zM411 84h1v1h-1zM412 83h1v1h-1zM413 82h2v1h-2zM415 81h1v1h-1zM416 80h1v1h-1zM417 79h1v1h-1zM418 80h3v1h-3zM421 81h2v1h-2zM423 82h2v1h-2zM425 83h1v1h-1zM426 84h2v1h-2zM428 85h1v1h-1zM429 86h3v1h-3zM432 87h4v1h-4zM436 86h6v1h-6zM442 87h2v1h-2zM444 88h2v1h-2zM446 89h1v1h-1zM447 90h1v1h-1zM448 91h1v1h-1zM449 92h1v1h-1zM450 93h1v1h-1zM451 94h1v1h-1zM452 95h1v1h-1zM453 96h1v1h-1zM454 97h1v1h-1zM455 98h1v1h-1zM456 99h1v1h-1zM457 100h2v1h-2zM459 101h1v1h-1zM460 102h1v1h-1zM461 103h1v1h-1zM462 104h1v2h-1zM463 106h1v1h-1zM464 107h1v1h-1zM465 108h1v1h-1zM466 109h1v1h-1zM467 110h1v3h-1zM468 113h1v3h-1zM469 116h1v3h-1zM470 119h1v3h-1zM471 122h1v3h-1zM472 125h1v3h-1zM473 128h1v3h-1zM474 131h1v3h-1zM475 134h1v3h-1zM476 137h1v3h-1zM477 140h1v3h-1zM478 143h1v3h-1zM479 146h1v3h-1zM480 149h1v2h-1zM481 151h1v3h-1zM482 154h1v2h-1zM483 156h1v3h-1zM484 159h1v3h-1zM485 162h1v2h-1zM486 164h1v3h-1zM487 167h1v3h-1zM488 170h1v2h-1zM489 172h1v3h-1zM490 175h1v3h-1zM491 178h1v3h-1zM492 181h1v2h-1zM493 183h1v3h-1zM494 186h1v3h-1zM495 189h1v3h-1zM496 192h1v3h-1zM497 195h1v2h-1zM498 197h1v2h-1zM499 199h1v2h-1zM500 201h1v2h-1zM501 203h1v2h-1zM502 205h1v2h-1zM503 207h1v2h-1zM504 209h1v2h-1zM505 211h1v2h-1zM506 213h1v2h-1zM507 215h1v2h-1zM508 217h1v2h-1zM509 219h1v2h-1zM510 221h1v2h-1zM511 223h1v2h-1zM512 225h1v3h-1zM513 228h1v3h-1zM514 231h1v3h-1zM515 234h1v3h-1zM516 237h1v3h-1zM517 240h1v3h-1zM518 243h1v2h-1zM519 245h1v3h-1zM520 248h1v2h-1zM521 250h1v2h-1zM522 252h1v2h-1zM523 254h1v1h-1zM524 255h2v1h-2zM526 256h1v1h-1zM527 257h4v1h-4zM531 258h3v1h-3zM534 259h1v1h-1zM535 260h1v1h-1zM536 261h1v1h-1zM537 262h1v1h-1zM538 263h1v1h-1zM539 264h1v1h-1zM540 265h1v1h-1zM541 266h1v1h-1zM542 267h1v1h-1zM543 268h1v1h-1zM544 269h2v1h-2zM546 270h2v1h-2zM548 271h2v1h-2zM550 272h1v1h-1zM551 273h1v1h-1zM552 274h1v1h-1zM553 275h1v1h-1zM554 276h1v1h-1zM555 277h1v1h-1zM556 278h1v1h-1zM557 279h1v1h-1zM558 280h1v1h-1zM559 281h1v1h-1zM560 282h1v1h-1zM561 283h1v1h-1zM562 284h1v2h-1zM563 286h1v1h-1zM564 287h2v1h-2zM566 288h2v1h-2zM568 289h1v1h-1zM569 290h2v1h-2zM571 291h2v1h-2zM573 292h2v1h-2zM575 293h2v1h-2zM577 294h3v1h-3zM580 295h2v1h-2zM582 296h1v1h-1zM583 297h1v1h-1zM584 298h1v1h-1zM585 299h1v1h-1zM586 300h1v1h-1zM587 301h1v1h-1zM588 302h1v1h-1zM589 303h1v1h-1zM590 304h3v1h-3zM593 305h2v1h-2zM595 306h2v1h-2zM597 307h3v1h-3zM600 308h2v1h-2zM602 309h3v1h-3zM605 310h4v1h-4zM609 311h5v1h-5zM614 310h3v1h-3zM617 309h2v1h-2zM619 308h2v1h-2zM621 307h2v1h-2zM623 306h2v1h-2zM625 305h2v1h-2zM627 304h2v1h-2zM629 303h2v1h-2zM631 302h2v1h-2zM633 301h3v1h-3zM636 300h2v1h-2zM638 299h6v1h-6zM644 300h5v1h-5zM649 301h3v1h-3zM652 302h2v1h-2zM654 303h2v1h-2zM656 304h2v1h-2zM658 305h1v1h-1zM659 306h1v1h-1zM660 307h1v1h-1zM661 308h1v1h-1zM662 309h1v1h-1zM663 310h1v1h-1zM664 311h1v1h-1zM665 312h2v1h-2zM667 313h2v1h-2zM669 314h1v1h-1zM670 315h2v1h-2zM672 316h2v1h-2zM674 317h1v2h-1zM675 319h1v1h-1zM676 320h1v1h-1zM677 321h1v1h-1zM678 322h1v2h-1zM679 324h1v1h-1zM680 325h1v2h-1zM681 327h1v2h-1zM682 329h1v2h-1zM683 331h1v2h-1zM684 333h1v1h-1zM685 334h1v2h-1zM686 336h1v2h-1zM687 338h1v2h-1zM688 340h1v1h-1zM689 341h1v2h-1zM690 343h1v1h-1zM691 344h1v2h-1zM692 346h1v1h-1zM693 347h1v1h-1zM694 348h1v2h-1zM695 350h3v1h-3zM698 351h7v1h-7zM705 350h3v1h-3zM708 349h4v1h-4zM712 348h3v1h-3zM715 347h3v1h-3zM718 346h2v1h-2zM720 345h2v1h-2zM722 344h3v1h-3zM725 343h2v1h-2zM727 342h1v1h-1zM728 340h1v2h-1zM729 339h1v1h-1zM730 338h1v1h-1zM731 337h1v1h-1zM732 336h1v1h-1zM733 335h1v1h-1zM734 334h1v1h-1zM735 332h1v2h-1zM736 331h1v1h-1zM737 329h1v2h-1zM738 327h1v2h-1zM739 326h1v1h-1zM740 324h1v2h-1zM741 323h1v1h-1zM742 321h1v2h-1zM743 319h1v2h-1zM744 317h1v2h-1zM745 316h1v1h-1zM746 314h1v2h-1zM747 312h1v2h-1zM748 310h1v2h-1zM749 308h1v2h-1zM750 307h1v1h-1zM751 306h1v1h-1zM752 305h1v1h-1zM753 304h1v1h-1zM754 303h1v1h-1zM755 302h1v1h-1zM756 301h1v1h-1zM757 300h2v1h-2zM759 299h1v1h-1zM760 298h2v1h-2zM762 297h1v1h-1zM763 296h2v1h-2zM765 295h2v1h-2zM767 294h3v1h-3zM770 293h4v1h-4zM774 292h6v1h-6zM780 293h2v1h-2zM782 294h2v1h-2zM784 295h1v1h-1zM785 296h1v1h-1zM786 297h1v1h-1zM787 298h1v2h-1zM788 300h1v1h-1zM789 301h1v1h-1zM790 302h1v2h-1zM791 304h1v1h-1zM792 305h1v1h-1zM793 306h1v2h-1zM794 308h1v2h-1zM795 310h1v2h-1zM796 312h1v1h-1zM797 313h1v2h-1zM798 315h1v2h-1zM799 317h1v2h-1zM800 319h1v1h-1zM801 320h1v1h-1zM802 321h1v2h-1zM803 323h1v1h-1zM804 324h1v1h-1zM805 325h1v1h-1zM806 326h1v1h-1zM807 327h1v2h-1zM808 329h1v1h-1zM809 330h1v1h-1zM810 331h1v1h-1zM811 332h1v1h-1zM812 333h1v1h-1zM813 334h1v2h-1zM814 336h1v1h-1zM815 337h1v1h-1zM816 338h1v1h-1zM817 339h1v1h-1zM818 340h1v1h-1zM819 341h1v1h-1zM820 342h1v1h-1zM821 343h1v2h-1zM822 345h1v2h-1zM823 347h1v2h-1zM824 349h1v2h-1zM825 351h1v1h-1zM826 352h1v2h-1zM827 354h1v2h-1zM828 356h1v2h-1zM829 358h1v2h-1zM830 360h1v2h-1zM831 362h1v2h-1zM832 364h1v3h-1zM833 367h1v2h-1zM834 369h1v2h-1zM835 371h1v3h-1zM836 374h1v2h-1zM837 376h1v2h-1zM838 378h1v2h-1zM839 380h1v1h-1zM840 381h1v1h-1zM841 382h1v2h-1zM842 384h1v1h-1zM843 385h1v1h-1zM844 386h1v1h-1zM845 387h1v1h-1zM846 388h1v1h-1zM847 389h1v2h-1zM848 391h1v2h-1zM849 393h1v2h-1zM850 395h1v2h-1zM851 397h1v2h-1zM852 399h1v2h-1zM853 401h1v1h-1zM854 402h1v2h-1zM855 404h1v2h-1zM856 406h1v2h-1zM857 408h1v1h-1zM858 409h1v2h-1zM859 411h1v1h-1zM860 412h1v2h-1zM861 414h1v2h-1zM862 416h1v1h-1zM863 417h1v2h-1zM864 419h1v1h-1zM865 420h1v2h-1zM866 422h1v1h-1zM867 423h1v2h-1zM868 425h1v1h-1zM869 426h1v2h-1zM870 428h1v1h-1zM871 429h1v1h-1zM872 430h1v2h-1zM873 432h1v1h-1zM874 433h1v1h-1zM875 434h1v2h-1zM876 436h1v1h-1zM877 437h2v1h-2zM879 438h1v1h-1zM880 439h6v1h-6zM886 438h5v1h-5zM891 437h4v1h-4zM895 436h3v1h-3zM898 435h5v1h-5zM903 434h1v1h-1zM904 433h1v1h-1zM905 432h1v1h-1zM906 431h1v1h-1zM907 430h2v1h-2zM909 429h2v1h-2zM911 428h1v1h-1zM912 427h3v1h-3zM915 426h3v1h-3zM918 425h3v1h-3zM921 424h3v1h-3zM924 423h3v1h-3z"/>
<rect x="6" y="255" width="1162" height="2" fill="#ff0000"/>
<rect x="6" y="311" width="1162" height="2" fill="#ff0000"/>
<rect x="6" y="369" width="1162" height="2" fill="#00ff00"/>
<rect x="6" y="427" width="1162" height="2" fill="#0000ff"/>
</g>
<g clip-path="url(#c2)">
<path fill="#c0c0c0" d="M5 523h3v13h-3zM9 523h3v17h-3zM13 523h3v21h-3zM17 523h3v23h-3zM21 523h3v22h-3zM25 523h3v22h-3zM29 523h3v19h-3zM33 523h3v14h-3zM37 523h3v11h-3zM41 523h3v9h-3zM45 523h3v7h-3zM49 523h3v5h-3zM53 523h3v4h-3zM57 523h3v7h-3zM61 523h3v7h-3zM65 523h3v5h-3zM69 523h3v4h-3zM73 523h3v2h-3zM77 521h3v2h-3zM81 521h3v2h-3zM85 516h3v7h-3zM89 516h3v7h-3zM93 519h3v4h-3zM97 523h3v1h-3zM101 523h3v3h-3zM105 523h3v5h-3zM109 523h3v7h-3zM113 523h3v16h-3zM117 523h3v22h-3zM121 523h3v29h-3zM125 523h3v33h-3zM129 523h3v35h-3zM133 523h3v33h-3zM137 523h3v33h-3zM141 523h3v31h-3zM145 523h3v31h-3zM149 523h3v32h-3zM153 523h3v30h-3zM157 523h3v30h-3zM161 523h3v30h-3zM165 523h3v29h-3zM169 523h3v27h-3zM173 523h3v28h-3zM177 523h3v29h-3zM181 523h3v34h-3zM185 523h3v36h-3zM189 523h3v37h-3zM193 523h3v39h-3zM197 523h3v42h-3zM201 523h3v43h-3zM205 523h3v42h-3zM209 523h3v40h-3zM213 523h3v38h-3zM217 523h3v36h-3zM221 523h3v31h-3zM225 523h3v25h-3zM229 523h3v19h-3zM233 523h3v15h-3zM237 523h3v11h-3zM241 523h3v8h-3zM245 523h3v3h-3zM249 520h3v3h-3zM253 517h3v6h-3zM257 514h3v9h-3zM261 511h3v12h-3zM265 507h3v16h-3zM269 503h3v20h-3zM273 501h3v22h-3zM277 501h3v22h-3zM281 498h3v25h-3zM285 495h3v28h-3zM289 493h3v30h-3zM293 492h3v31h-3zM297 491h3v32h-3zM301 490h3v33h-3zM305 494h3v29h-3zM309 497h3v26h-3zM313 498h3v25h-3zM317 501h3v22h-3zM321 505h3v18h-3zM325 505h3v18h-3zM329 501h3v22h-3zM333 497h3v26h-3zM337 494h3v29h-3zM341 493h3v30h-3zM345 496h3v27h-3zM349 499h3v24h-3zM353 499h3v24h-3zM357 498h3v25h-3zM361 497h3v26h-3zM365 496h3v27h-3zM369 494h3v29h-3zM373 492h3v31h-3zM377 493h3v30h-3zM381 494h3v29h-3zM385 494h3v29h-3zM389 493h3v30h-3zM393 495h3v28h-3zM397 496h3v27h-3zM401 497h3v26h-3zM405 499h3v24h-3zM409 499h3v24h-3zM413 498h3v25h-3zM417 500h3v23h-3zM421 505h3v18h-3zM425 507h3v16h-3zM429 510h3v13h-3zM433 510h3v13h-3zM437 511h3v12h-3zM441 512h3v11h-3zM445 514h3v9h-3zM449 518h3v5h-3zM453 522h3v1h-3zM457 523h3v2h-3zM461 523h3v3h-3zM465 523h3v5h-3zM469 523h3v15h-3zM473 523h3v25h-3zM477 523h3v33h-3zM481 523h3v37h-3zM485 523h3v40h-3zM489 523h3v39h-3zM493 523h3v40h-3zM497 523h3v39h-3zM501 523h3v39h-3zM505 523h3v37h-3zM509 523h3v38h-3zM513 523h3v40h-3zM517 523h3v41h-3zM521 523h3v42h-3zM525 523h3v41h-3zM529 523h3v40h-3zM533 523h3v41h-3zM537 523h3v42h-3zM541 523h3v41h-3zM545 523h3v38h-3zM549 523h3v35h-3zM553 523h3v33h-3zM557 523h3v34h-3zM561 523h3v33h-3zM565 523h3v33h-3zM569 523h3v32h-3zM573 523h3v31h-3zM577 523h3v31h-3zM581 523h3v31h-3zM585 523h3v30h-3zM589 523h3v30h-3zM593 523h3v30h-3zM597 523h3v30h-3zM601 523h3v27h-3zM605 523h3v24h-3zM609 523h3v22h-3zM613 523h3v17h-3zM617 523h3v13h-3zM621 523h3v11h-3zM625 523h3v8h-3zM629 523h3v7h-3zM633 523h3v6h-3zM637 523h3v6h-3zM641 523h3v9h-3zM645 523h3v12h-3zM649 523h3v14h-3zM653 523h3v18h-3zM657 523h3v19h-3zM661 523h3v20h-3zM665 523h3v18h-3zM669 523h3v16h-3zM673 523h3v16h-3zM677 523h3v17h-3zM681 523h3v19h-3zM685 523h3v21h-3zM689 523h3v22h-3zM693 523h3v23h-3zM697 523h3v21h-3zM701 523h3v19h-3zM705 523h3v17h-3zM709 523h3v15h-3zM713 523h3v11h-3zM717 523h3v8h-3zM721 523h3v6h-3zM725 523h3v4h-3zM729 522h3v1h-3zM733 518h3v5h-3zM737 515h3v8h-3zM741 511h3v12h-3zM745 510h3v13h-3zM749 510h3v13h-3zM753 511h3v12h-3zM757 512h3v11h-3zM761 514h3v9h-3zM765 515h3v8h-3zM769 516h3v7h-3zM773 517h3v6h-3zM777 518h3v5h-3zM781 521h3v2h-3zM785 523h3v3h-3zM789 523h3v6h-3zM793 523h3v9h-3zM797 523h3v11h-3zM801 523h3v11h-3zM805 523h3v12h-3zM809 523h3v14h-3zM813 523h3v15h-3zM817 523h3v16h-3zM821 523h3v18h-3zM825 523h3v22h-3zM829 523h3v27h-3zM833 523h3v30h-3zM837 523h3v31h-3zM841 523h3v31h-3zM845 523h3v31h-3zM849 523h3v34h-3zM853 523h3v35h-3zM857 523h3v35h-3zM861 523h3v34h-3zM865 523h3v33h-3zM869 523h3v33h-3zM873 523h3v33h-3zM877 523h3v31h-3zM881 523h3v28h-3zM885 523h3v26h-3zM889 523h3v23h-3zM893 523h3v20h-3zM897 523h3v16h-3zM901 523h3v14h-3zM905 523h3v12h-3zM909 523h3v10h-3zM913 523h3v10h-3zM917 523h3v10h-3zM921 523h3v10h-3zM925 523h3v10h-3z"/>
<path fill="#ff0000" d="M6 529h3v1h-3zM9 530h2v1h-2zM11 531h2v1h-2zM13 532h2v1h-2zM15 533h2v1h-2zM17 534h3v1h-3zM20 535h2v1h-2zM22 536h2v1h-2zM24 537h3v1h-3zM27 538h3v1h-3zM30 539h3v1h-3zM33 540h11v1h-11zM44 539h2v1h-2zM46 538h2v1h-2zM48 537h3v1h-3zM51 536h2v1h-2zM53 535h2v1h-2zM55 534h3v1h-3zM58 533h2v1h-2zM60 532h2v1h-2zM62 531h3v1h-3zM65 530h3v1h-3zM68 529h3v1h-3zM71 528h4v1h-4zM75 527h3v1h-3zM78 526h3v1h-3zM81 525h3v1h-3zM84 524h4v1h-4zM88 523h3v1h-3zM91 522h4v1h-4zM95 521h15v1h-15zM110 522h2v1h-2zM112 523h2v1h-2zM114 524h3v1h-3zM117 525h1v1h-1zM118 526h1v1h-1zM119 527h1v1h-1zM120 528h1v1h-1zM121 529h2v1h-2zM123 530h1v1h-1zM124 531h1v1h-1zM125 532h1v1h-1zM126 533h1v1h-1zM127 534h1v1h-1zM128 535h1v1h-1zM129 536h1v1h-1zM130 537h1v1h-1zM131 538h1v1h-1zM132 539h1v1h-1zM133 540h1v1h-1zM134 541h1v1h-1zM135 542h1v1h-1zM136 543h1v1h-1zM137 544h1v1h-1zM138 545h1v1h-1zM139 546h2v1h-2zM141 547h1v1h-1zM142 548h2v1h-2zM144 549h1v1h-1zM145 550h2v1h-2zM147 551h1v1h-1zM148 552h3v1h-3zM151 553h2v1h-2zM153 554h12v1h-12zM165 553h9v1h-9zM174 552h14v1h-14zM188 553h6v1h-6zM194 554h3v1h-3zM197 555h3v1h-3zM200 556h2v1h-2zM202 557h2v1h-2zM204 558h3v1h-3zM207 559h3v1h-3zM210 560h4v1h-4zM214 561h9v1h-9zM223 560h2v1h-2zM225 559h2v1h-2zM227 558h3v1h-3zM230 557h1v1h-1zM231 556h2v1h-2zM233 555h1v1h-1zM234 554h1v1h-1zM235 553h2v1h-2zM237 552h1v1h-1zM238 551h1v1h-1zM239 550h1v1h-1zM240 549h1v1h-1zM241 548h1v1h-1zM242 547h1v1h-1zM243 546h1v1h-1zM244 545h1v1h-1zM245 544h1v1h-1zM246 543h1v1h-1zM247 542h1v1h-1zM248 541h1v1h-1zM249 540h1v1h-1zM250 539h1v1h-1zM251 538h1v1h-1zM252 537h1v1h-1zM253 535h1v2h-1zM254 534h1v1h-1zM255 533h1v1h-1zM256 532h1v1h-1zM257 531h1v1h-1zM258 530h1v1h-1zM259 529h1v1h-1zM260 528h1v1h-1zM261 527h1v1h-1zM262 526h1v1h-1zM263 525h1v1h-1zM264 524h1v1h-1zM265 523h1v1h-1zM266 522h1v1h-1zM267 521h1v1h-1zM268 520h1v1h-1zM269 519h1v1h-1zM270 518h1v1h-1zM271 517h1v1h-1zM272 516h1v1h-1zM273 515h1v1h-1zM274 514h2v1h-2zM276 513h1v1h-1zM277 512h1v1h-1zM278 511h1v1h-1zM279 510h2v1h-2zM281 509h1v1h-1zM282 508h1v1h-1zM283 507h2v1h-2zM285 506h1v1h-1zM286 505h2v1h-2zM288 504h1v1h-1zM289 503h2v1h-2zM291 502h2v1h-2zM293 501h1v1h-1zM294 500h2v1h-2zM296 499h1v1h-1zM297 498h2v1h-2zM299 497h2v1h-2zM301 496h2v1h-2zM303 495h7v1h-7zM310 494h7v1h-7zM317 495h4v1h-4zM321 496h5v1h-5zM326 497h2v1h-2zM328 498h4v1h-4zM332 499h25v1h-25zM357 498h3v1h-3zM360 497h13v1h-13zM373 496h7v1h-7zM380 495h9v1h-9zM389 494h17v1h-17zM406 495h6v1h-6zM412 496h7v1h-7zM419 497h3v1h-3zM422 498h4v1h-4zM426 499h2v1h-2zM428 500h3v1h-3zM431 501h2v1h-2zM433 502h2v1h-2zM435 503h3v1h-3zM438 504h3v1h-3zM441 505h2v1h-2zM443 506h3v1h-3zM446 507h2v1h-2zM448 508h1v1h-1zM449 509h2v1h-2zM451 510h2v1h-2zM453 511h2v1h-2zM455 512h2v1h-2zM457 513h2v1h-2zM459 514h2v1h-2zM461 515h2v1h-2zM463 516h2v1h-2zM465 517h1v1h-1zM466 518h2v1h-2zM468 519h1v1h-1zM469 520h2v1h-2zM471 521h1v1h-1zM472 522h1v1h-1zM473 523h1v1h-1zM474 524h1v1h-1zM475 525h1v1h-1zM476 526h1v2h-1zM477 528h1v1h-1zM478 529h1v1h-1zM479 530h1v1h-1zM480 531h1v2h-1zM481 533h1v1h-1zM482 534h1v1h-1zM483 535h1v1h-1zM484 536h1v2h-1zM485 538h1v1h-1zM486 539h1v1h-1zM487 540h1v1h-1zM488 541h1v1h-1zM489 542h1v1h-1zM490 543h1v1h-1zM491 544h1v1h-1zM492 545h1v1h-1zM493 546h1v1h-1zM494 547h1v1h-1zM495 548h1v1h-1zM496 549h1v1h-1zM497 550h1v1h-1zM498 551h1v1h-1zM499 552h1v1h-1zM500 553h1v1h-1zM501 554h1v1h-1zM502 555h1v1h-1zM503 556h1v1h-1zM504 557h1v1h-1zM505 558h1v1h-1zM506 559h4v1h-4zM510 560h3v1h-3zM513 561h12v1h-12zM525 562h16v1h-16zM541 563h9v1h-9zM550 562h2v1h-2zM552 561h3v1h-3zM555 560h6v1h-6zM561 559h6v1h-6zM567 558h3v1h-3zM570 557h3v1h-3zM573 556h3v1h-3zM576 555h8v1h-8zM584 554h7v1h-7zM591 553h10v1h-10zM601 552h4v1h-4zM605 551h4v1h-4zM609 550h3v1h-3zM612 549h2v1h-2zM614 548h3v1h-3zM617 547h2v1h-2zM619 546h2v1h-2zM621 545h2v1h-2zM623 544h2v1h-2zM625 543h1v1h-1zM626 542h2v1h-2zM628 541h1v1h-1zM629 540h2v1h-2zM631 539h1v1h-1zM632 538h2v1h-2zM634 537h1v1h-1zM635 536h2v1h-2zM637 535h2v1h-2zM639 534h2v1h-2zM641 533h3v1h-3zM644 532h15v1h-15zM659 533h3v1h-3zM662 534h2v1h-2zM664 535h3v1h-3zM667 536h3v1h-3zM670 537h4v1h-4zM674 538h4v1h-4zM678 539h6v1h-6zM684 540h5v1h-5zM689 541h16v1h-16zM705 542h9v1h-9zM714 541h3v1h-3zM717 540h2v1h-2zM719 539h2v1h-2zM721 538h2v1h-2zM723 537h2v1h-2zM725 536h2v1h-2zM727 535h2v1h-2zM729 534h1v1h-1zM730 533h2v1h-2zM732 532h1v1h-1zM733 531h2v1h-2zM735 530h1v1h-1zM736 529h2v1h-2zM738 528h1v1h-1zM739 527h1v1h-1zM740 526h2v1h-2zM742 525h1v1h-1zM743 524h1v1h-1zM744 523h1v1h-1zM745 522h2v1h-2zM747 521h1v1h-1zM748 520h2v1h-2zM750 519h1v1h-1zM751 518h2v1h-2zM753 517h2v1h-2zM755 516h2v1h-2zM757 515h2v1h-2zM759 514h4v1h-4zM763 513h16v1h-16zM779 514h3v1h-3zM782 515h3v1h-3zM785 516h3v1h-3zM788 517h2v1h-2zM790 518h2v1h-2zM792 519h3v1h-3zM795 520h1v1h-1zM796 521h2v1h-2zM798 522h2v1h-2zM800 523h1v1h-1zM801 524h2v1h-2zM803 525h2v1h-2zM805 526h2v1h-2zM807 527h2v1h-2zM809 528h2v1h-2zM811 529h1v1h-1zM812 530h2v1h-2zM814 531h2v1h-2zM816 532h2v1h-2zM818 533h3v1h-3zM821 534h3v1h-3zM824 535h2v1h-2zM826 536h2v1h-2zM828 537h2v1h-2zM830 538h2v1h-2zM832 539h2v1h-2zM834 540h2v1h-2zM836 541h2v1h-2zM838 542h2v1h-2zM840 543h2v1h-2zM842 544h2v1h-2zM844 545h2v1h-2zM846 546h1v1h-1zM847 547h2v1h-2zM849 548h1v1h-1zM850 549h2v1h-2zM852 550h2v1h-2zM854 551h3v1h-3zM857 552h2v1h-2zM859 553h3v1h-3zM862 554h4v1h-4zM866 555h8v1h-8zM874 556h8v1h-8zM882 555h3v1h-3zM885 554h4v1h-4zM889 553h2v1h-2zM891 552h2v1h-2zM893 551h2v1h-2zM895 550h3v1h-3zM898 549h1v1h-1zM899 548h2v1h-2zM901 547h1v1h-1zM902 546h2v1h-2zM904 545h2v1h-2zM906 544h1v1h-1zM907 543h2v1h-2zM909 542h2v1h-2zM911 541h2v1h-2zM913 540h2v1h-2zM915 539h2v1h-2zM917 538h2v1h-2zM919 537h2v1h-2zM921 536h2v1h-2zM923 535h2v1h-2zM925 534h2v1h-2z"/>
</g>
<g clip-path="url(#c3)">
<path stroke="#c0c0c0" stroke-width="1" stroke-dasharray="3 3" fill="none" d="M7 598.5H1168M7 633.5H1168"/>
<path fill="#1e90ff" d="M6 626h2v1h-2zM8 627h3v1h-3zM11 628h2v1h-2zM13 629h1v1h-1zM14 630h1v1h-1zM15 628h1v2h-1zM16 627h1v1h-1zM17 625h1v2h-1zM18 624h2v1h-2zM20 623h2v1h-2zM22 622h4v1h-4zM26 621h1v1h-1zM27 620h1v1h-1zM28 619h1v1h-1zM29 618h1v1h-1zM30 616h1v2h-1zM31 615h1v1h-1zM32 614h1v1h-1zM33 613h1v1h-1zM34 612h1v1h-1zM35 613h4v1h-4zM39 614h9v1h-9zM48 613h2v1h-2zM50 612h1v1h-1zM51 613h3v1h-3zM54 614h1v1h-1zM55 615h1v3h-1zM56 618h1v2h-1zM57 620h1v3h-1zM58 623h1v2h-1zM59 623h1v1h-1zM60 621h1v2h-1zM61 620h1v1h-1zM62 619h1v1h-1zM63 617h1v2h-1zM64 616h1v1h-1zM65 615h1v1h-1zM66 613h1v2h-1zM67 614h5v1h-5zM72 613h2v1h-2zM74 612h2v1h-2zM76 611h2v1h-2zM78 610h1v1h-1zM79 611h1v1h-1zM80 612h1v1h-1zM81 613h1v1h-1zM82 614h1v1h-1zM83 612h1v2h-1zM84 610h1v2h-1zM85 608h1v2h-1zM86 606h1v2h-1zM87 607h1v2h-1zM88 609h1v2h-1zM89 611h1v2h-1zM90 613h1v2h-1zM91 615h1v1h-1zM92 616h1v1h-1zM93 617h1v2h-1zM94 619h1v1h-1zM95 620h2v1h-2zM97 621h5v1h-5zM102 620h4v1h-4zM106 619h1v1h-1zM107 620h2v1h-2zM109 621h2v1h-2zM111 622h1v3h-1zM112 625h1v2h-1zM113 627h1v2h-1zM114 629h1v2h-1zM115 630h2v1h-2zM117 629h2v1h-2zM119 630h1v1h-1zM120 631h1v1h-1zM121 632h3v1h-3zM124 631h1v1h-1zM125 630h2v1h-2zM127 629h3v1h-3zM130 628h1v1h-1zM131 627h1v1h-1zM132 625h1v2h-1zM133 624h1v1h-1zM134 622h1v2h-1zM135 623h7v1h-7zM142 622h1v1h-1zM143 623h2v1h-2zM145 624h2v1h-2zM147 625h2v1h-2zM149 626h4v1h-4zM153 625h2v1h-2zM155 624h2v1h-2zM157 623h1v1h-1zM158 622h1v1h-1zM159 623h2v1h-2zM161 624h5v1h-5zM166 625h1v1h-1zM167 624h1v1h-1zM168 623h1v1h-1zM169 622h2v1h-2zM171 623h1v1h-1zM172 624h1v1h-1zM173 625h1v1h-1zM174 626h1v1h-1zM175 627h2v1h-2zM177 628h2v1h-2zM179 629h1v1h-1zM180 630h1v1h-1zM181 631h1v1h-1zM182 632h2v1h-2zM184 631h2v1h-2zM186 630h5v1h-5zM191 631h4v1h-4zM195 632h1v1h-1zM196 633h2v1h-2zM198 634h2v1h-2zM200 633h2v1h-2zM202 632h1v1h-1zM203 631h1v1h-1zM204 630h1v1h-1zM205 629h1v1h-1zM206 627h1v2h-1zM207 627h4v1h-4zM211 628h3v1h-3zM214 629h1v1h-1zM215 627h1v2h-1zM216 625h1v2h-1zM217 623h1v2h-1zM218 622h1v1h-1zM219 621h1v1h-1zM220 620h1v1h-1zM221 619h1v1h-1zM222 618h1v1h-1zM223 617h1v1h-1zM224 616h1v1h-1zM225 615h1v1h-1zM226 614h1v1h-1zM227 613h2v1h-2zM229 612h1v1h-1zM230 611h1v1h-1zM231 612h7v1h-7zM238 611h5v1h-5zM243 610h2v1h-2zM245 609h1v1h-1zM246 608h1v1h-1zM247 607h1v1h-1zM248 606h1v1h-1zM249 605h1v1h-1zM250 604h1v1h-1zM251 605h2v1h-2zM253 606h3v1h-3zM256 605h2v1h-2zM258 604h5v1h-5zM263 603h1v1h-1zM264 602h1v1h-1zM265 601h1v1h-1zM266 600h2v1h-2zM268 599h2v1h-2zM270 598h1v1h-1zM271 599h3v1h-3zM274 600h1v1h-1zM275 601h1v1h-1zM276 602h1v1h-1zM277 603h1v1h-1zM278 604h1v1h-1zM279 603h1v1h-1zM280 602h1v1h-1zM281 600h1v2h-1zM282 599h2v1h-2zM284 598h2v1h-2zM286 597h1v1h-1zM287 598h2v1h-2zM289 599h3v1h-3zM292 600h4v1h-4zM296 599h2v1h-2zM298 598h3v1h-3zM301 597h1v1h-1zM302 597h1v2h-1zM303 599h1v4h-1zM304 603h1v3h-1zM305 606h1v4h-1zM306 610h1v2h-1zM307 611h1v1h-1zM308 612h3v1h-3zM311 611h1v1h-1zM312 610h1v1h-1zM313 609h1v1h-1zM314 608h1v1h-1zM315 609h1v2h-1zM316 611h1v1h-1zM317 612h1v2h-1zM318 614h2v1h-2zM320 615h3v1h-3zM323 614h1v1h-1zM324 613h1v1h-1zM325 612h1v1h-1zM326 611h1v1h-1zM327 609h1v2h-1zM328 606h1v3h-1zM329 604h1v2h-1zM330 602h1v2h-1zM331 602h3v1h-3zM334 601h8v1h-8zM342 601h1v2h-1zM343 603h1v3h-1zM344 606h1v3h-1zM345 609h1v3h-1zM346 612h1v2h-1zM347 613h4v1h-4zM351 612h1v1h-1zM352 610h1v2h-1zM353 609h1v1h-1zM354 607h1v2h-1zM355 607h7v1h-7zM362 606h2v1h-2zM364 605h1v1h-1zM365 604h1v1h-1zM366 603h1v1h-1zM367 602h3v1h-3zM370 601h5v1h-5zM375 602h1v2h-1zM376 604h1v1h-1zM377 605h1v2h-1zM378 607h6v1h-6zM384 606h1v1h-1zM385 605h1v1h-1zM386 604h2v1h-2zM388 603h2v1h-2zM390 602h1v1h-1zM391 603h1v2h-1zM392 605h1v1h-1zM393 606h1v1h-1zM394 607h2v1h-2zM396 608h11v1h-11zM407 607h1v1h-1zM408 606h1v1h-1zM409 605h1v1h-1zM410 604h4v1h-4zM414 603h1v1h-1zM415 604h1v2h-1zM416 606h1v1h-1zM417 607h1v1h-1zM418 608h1v2h-1zM419 610h1v3h-1zM420 613h1v3h-1zM421 616h1v3h-1zM422 619h1v2h-1zM423 619h1v1h-1zM424 617h1v2h-1zM425 616h1v1h-1zM426 614h1v2h-1zM427 615h4v1h-4zM431 614h1v1h-1zM432 613h1v1h-1zM433 612h1v1h-1zM434 611h1v1h-1zM435 612h1v1h-1zM436 613h1v1h-1zM437 614h5v1h-5zM442 613h1v1h-1zM443 614h4v1h-4zM447 615h1v2h-1zM448 617h1v2h-1zM449 619h1v2h-1zM450 621h1v2h-1zM451 622h5v1h-5zM456 621h1v1h-1zM457 620h1v1h-1zM458 619h1v1h-1zM459 620h7v1h-7zM466 620h1v2h-1zM467 622h1v4h-1zM468 626h1v4h-1zM469 630h1v4h-1zM470 634h1v3h-1zM471 637h8v1h-8zM479 636h1v1h-1zM480 635h1v1h-1zM481 634h1v1h-1zM482 633h5v1h-5zM487 631h1v2h-1zM488 630h1v1h-1zM489 629h1v1h-1zM490 627h1v2h-1zM491 628h2v1h-2zM493 629h3v1h-3zM496 628h2v1h-2zM498 627h1v1h-1zM499 628h3v1h-3zM502 629h1v1h-1zM503 628h3v1h-3zM506 627h1v1h-1zM507 628h2v1h-2zM509 629h2v1h-2zM511 630h1v1h-1zM512 631h1v1h-1zM513 632h1v1h-1zM514 633h4v1h-4zM518 632h1v1h-1zM519 633h4v1h-4zM523 632h1v1h-1zM524 631h1v1h-1zM525 630h1v1h-1zM526 629h2v1h-2zM528 630h3v1h-3zM531 631h1v1h-1zM532 632h2v1h-2zM534 633h2v1h-2zM536 634h3v1h-3zM539 633h1v1h-1zM540 631h1v2h-1zM541 630h1v1h-1zM542 628h1v2h-1zM543 628h1v1h-1zM544 627h1v1h-1zM545 626h1v1h-1zM546 625h2v1h-2zM548 624h2v1h-2zM550 623h1v1h-1zM551 624h2v1h-2zM553 625h2v1h-2zM555 626h1v1h-1zM556 627h1v1h-1zM557 628h1v1h-1zM558 629h2v1h-2zM560 628h2v1h-2zM562 627h1v1h-1zM563 628h16v1h-16zM579 629h1v1h-1zM580 630h2v1h-2zM582 631h1v1h-1zM583 630h1v1h-1zM584 629h1v1h-1zM585 628h1v1h-1zM586 627h1v1h-1zM587 628h1v1h-1zM588 629h1v1h-1zM589 630h2v1h-2zM591 631h4v1h-4zM595 630h2v1h-2zM597 629h1v1h-1zM598 628h1v1h-1zM599 627h1v1h-1zM600 625h1v2h-1zM601 623h1v2h-1zM602 621h1v2h-1zM603 621h1v1h-1zM604 620h1v1h-1zM605 619h1v1h-1zM606 618h1v1h-1zM607 619h1v1h-1zM608 620h2v1h-2zM610 620h1v2h-1zM611 618h1v2h-1zM612 615h1v3h-1zM613 612h1v3h-1zM614 610h1v2h-1zM615 611h1v1h-1zM616 612h2v1h-2zM618 613h2v1h-2zM620 614h4v1h-4zM624 613h2v1h-2zM626 612h1v1h-1zM627 613h2v1h-2zM629 614h2v1h-2zM631 615h1v1h-1zM632 616h1v1h-1zM633 617h5v1h-5zM638 617h1v2h-1zM639 619h1v2h-1zM640 621h1v2h-1zM641 623h1v2h-1zM642 625h1v2h-1zM643 626h1v1h-1zM644 627h4v1h-4zM648 628h3v1h-3zM651 629h2v1h-2zM653 630h3v1h-3zM656 629h1v1h-1zM657 628h1v1h-1zM658 627h1v1h-1zM659 628h4v1h-4zM663 625h1v3h-1zM664 622h1v3h-1zM665 619h1v3h-1zM666 617h1v2h-1zM667 617h4v1h-4zM671 618h2v1h-2zM673 619h2v1h-2zM675 620h1v2h-1zM676 622h1v2h-1zM677 624h1v2h-1zM678 626h1v2h-1zM679 627h1v1h-1zM680 628h3v1h-3zM683 629h11v1h-11zM694 628h1v1h-1zM695 627h1v1h-1zM696 625h1v2h-1zM697 623h1v2h-1zM698 621h1v2h-1zM699 621h1v1h-1zM700 620h2v1h-2zM702 619h2v1h-2zM704 618h2v1h-2zM706 617h4v1h-4zM710 616h1v1h-1zM711 615h1v1h-1zM712 614h1v1h-1zM713 613h1v1h-1zM714 611h1v2h-1zM715 611h11v1h-11zM726 610h1v1h-1zM727 609h1v1h-1zM728 607h1v2h-1zM729 605h1v2h-1zM730 604h1v1h-1zM731 603h3v1h-3zM734 602h2v1h-2zM736 601h1v1h-1zM737 600h2v1h-2zM739 599h3v1h-3zM742 598h1v1h-1zM743 599h1v2h-1zM744 601h1v1h-1zM745 602h1v1h-1zM746 603h1v2h-1zM747 605h1v1h-1zM748 606h1v1h-1zM749 607h1v1h-1zM750 608h1v1h-1zM751 609h1v1h-1zM752 610h1v2h-1zM753 612h1v2h-1zM754 614h2v1h-2zM756 613h2v1h-2zM758 612h2v1h-2zM760 613h3v1h-3zM763 614h2v1h-2zM765 615h2v1h-2zM767 616h5v1h-5zM772 615h1v1h-1zM773 614h1v1h-1zM774 613h1v1h-1zM775 614h3v1h-3zM778 614h1v2h-1zM779 616h1v2h-1zM780 618h1v3h-1zM781 621h1v2h-1zM782 623h1v2h-1zM783 625h1v1h-1zM784 626h1v1h-1zM785 627h1v1h-1zM786 628h1v2h-1zM787 629h11v1h-11zM798 630h1v1h-1zM799 629h1v1h-1zM800 627h1v2h-1zM801 626h1v1h-1zM802 625h1v1h-1zM803 626h4v1h-4zM807 627h1v1h-1zM808 628h1v1h-1zM809 629h6v1h-6zM815 630h2v1h-2zM817 631h2v1h-2zM819 632h3v1h-3zM822 633h1v1h-1zM823 634h1v2h-1zM824 636h1v2h-1zM825 638h1v1h-1zM826 639h1v2h-1zM827 641h2v1h-2zM829 642h2v1h-2zM831 641h1v1h-1zM832 640h2v1h-2zM834 639h2v1h-2zM836 638h3v1h-3zM839 637h1v1h-1zM840 635h1v2h-1zM841 634h1v1h-1zM842 633h5v1h-5zM847 634h1v2h-1zM848 636h1v1h-1zM849 637h1v1h-1zM850 638h2v1h-2zM852 637h1v1h-1zM853 636h2v1h-2zM855 635h1v1h-1zM856 634h2v1h-2zM858 633h2v1h-2zM860 632h2v1h-2zM862 631h1v1h-1zM863 632h4v1h-4zM867 633h1v1h-1zM868 634h1v1h-1zM869 635h2v1h-2zM871 634h1v1h-1zM872 632h1v2h-1zM873 631h1v1h-1zM874 629h1v2h-1zM875 628h1v1h-1zM876 627h1v1h-1zM877 626h1v1h-1zM878 625h2v1h-2zM880 624h4v1h-4zM884 623h1v1h-1zM885 622h4v1h-4zM889 621h2v1h-2zM891 620h1v1h-1zM892 619h1v1h-1zM893 618h1v1h-1zM894 616h1v2h-1zM895 616h1v1h-1zM896 615h2v1h-2zM898 614h5v1h-5zM903 615h2v1h-2zM905 616h5v1h-5zM910 615h1v1h-1zM911 616h1v2h-1zM912 618h1v1h-1zM913 619h1v1h-1zM914 620h1v1h-1zM915 621h1v1h-1zM916 622h1v1h-1zM917 623h1v1h-1zM918 624h2v1h-2zM920 623h2v1h-2zM922 622h5v1h-5z"/>
</g>
<path fill="#000" d="M5 23H1169V24H5zM5 23H6V660H5zM1168 23H1169V660H1168zM5 483H1169V484H5zM5 485H1169V486H5zM5 569H1169V570H5zM5 571H1169V572H5zM5 659H1169V660H5z"/>
<path fill="#000" d="M1169 51h2v1h-2zM1169 84h2v1h-2zM1169 117h2v1h-2zM1169 150h2v1h-2zM1169 183h2v1h-2zM1169 216h2v1h-2zM1169 249h2v1h-2zM1169 282h2v1h-2zM1169 315h2v1h-2zM1169 348h2v1h-2zM1169 381h2v1h-2zM1169 414h2v1h-2zM1169 447h2v1h-2zM1169 480h2v1h-2zM1169 523h2v1h-2zM1169 599h2v1h-2zM1169 633h2v1h-2zM1169 487h1v1h-1zM1169 568h1v1h-1zM1169 573h1v1h-1zM1169 658h1v1h-1zM6 660h1v3h-1zM70 660h1v3h-1zM134 660h1v3h-1zM198 660h1v3h-1zM262 660h1v3h-1zM326 660h1v3h-1zM390 660h1v3h-1zM454 660h1v3h-1zM518 660h1v3h-1zM582 660h1v3h-1zM646 660h1v3h-1zM710 660h1v3h-1zM774 660h1v3h-1zM838 660h1v3h-1zM902 660h1v3h-1z"/>
<rect x="5" y="309" width="6" height="6" fill="#ff0000"/><rect x="7" y="311" width="2" height="2" fill="#fff"/>
<rect x="1162" y="309" width="6" height="6" fill="#ff0000"/><rect x="1164" y="311" width="2" height="2" fill="#fff"/>
<rect x="5" y="367" width="6" height="6" fill="#00ff00"/><rect x="7" y="369" width="2" height="2" fill="#fff"/>
<rect x="1162" y="367" width="6" height="6" fill="#00ff00"/><rect x="1164" y="369" width="2" height="2" fill="#fff"/>
</svg>
<svg class="a" style="left:9px;top:30px" width="7" height="4"><path d="M3 0h1v1h1v1h1v1h1v1h-7v-1h1v-1h1v-1h1z" fill="#000"/></svg>
<div class="a st" style="left:21.2px;top:26.1px;font-size:9.6px;line-height:10px;transform:scaleX(.972);transform-origin:0 50%">EURUSD,Daily</div>
<div class="a st" style="left:90.8px;top:26.1px;font-size:9.6px;line-height:10px;transform:scaleX(.958);transform-origin:0 50%">1.15991 1.16153 1.15973 1.15982</div>
<div class="a st" style="left:9.6px;top:489.67px;font-size:9.6px;line-height:10px;transform:scaleX(.968);transform-origin:0 50%">MACD(12,26,9) -0.001525 -0.001893</div>
<div class="a st" style="left:9.8px;top:575.67px;font-size:9.6px;line-height:10px;transform:scaleX(.95);transform-origin:0 50%">RSI(14) 42.7816</div>
<div class="ax" style="top:46.45px">1.22565</div>
<div class="ax" style="top:79.45px">1.21995</div>
<div class="ax" style="top:112.45px">1.21410</div>
<div class="ax" style="top:145.45px">1.20840</div>
<div class="ax" style="top:178.45px">1.20270</div>
<div class="ax" style="top:211.45px">1.19685</div>
<div class="ax" style="top:244.45px">1.19115</div>
<div class="ax" style="top:277.45px">1.18545</div>
<div class="ax" style="top:310.45px">1.17960</div>
<div class="ax" style="top:343.45px">1.17390</div>
<div class="ax" style="top:376.45px">1.16820</div>
<div class="ax" style="top:409.45px">1.16235</div>
<div class="ax" style="top:442.45px">1.15665</div>
<div class="ax" style="top:475.45px">1.15095</div>
<div class="ax" style="left:1171.8px;top:488.45px">0.006193</div>
<div class="ax" style="left:1171.8px;top:518.45px">0.00</div>
<div class="ax" style="left:1171.8px;top:557.45px">-0.00762</div>
<div class="ax" style="left:1171.8px;top:574.45px">100</div>
<div class="ax" style="left:1171.8px;top:594.45px">70</div>
<div class="ax" style="left:1171.8px;top:628.45px">30</div>
<div class="ax" style="left:1171.8px;top:648.45px">0</div>
<div class="pl" style="top:250px;background:#ff0000"><span>1.18998</span></div>
<div class="pl" style="top:306px;background:#ff0000"><span>1.18024</span></div>
<div class="pl" style="top:364px;background:#00ff00"><span>1.17010</span></div>
<div class="pl" style="top:424px;height:11px;background:#000"></div>
<div class="pl" style="top:422px;background:#0000ff"><span>1.16007</span></div>
<div class="dt" style="left:5px">2 Feb 2021</div>
<div class="dt" style="left:69px">20 Feb 2021</div>
<div class="dt" style="left:133px">11 Mar 2021</div>
<div class="dt" style="left:197px">30 Mar 2021</div>
<div class="dt" style="left:261px">17 Apr 2021</div>
<div class="dt" style="left:325px">6 May 2021</div>
<div class="dt" style="left:389px">25 May 2021</div>
<div class="dt" style="left:453px">12 Jun 2021</div>
<div class="dt" style="left:517px">1 Jul 2021</div>
<div class="dt" style="left:581px">20 Jul 2021</div>
<div class="dt" style="left:645px">7 Aug 2021</div>
<div class="dt" style="left:709px">26 Aug 2021</div>
<div class="dt" style="left:773px">14 Sep 2021</div>
<div class="dt" style="left:837px">2 Oct 2021</div>
<div class="dt" style="left:901px">21 Oct 2021</div>
<div class="a" style="left:7px;top:41px;width:223px;height:61px;background:#fff"></div>
<div class="a" style="left:9px;top:43px;width:52px;height:25px;background:linear-gradient(#6060ff,#3a3aee)"></div>
<div class="a" style="left:176px;top:43px;width:52px;height:25px;background:linear-gradient(#6060ff,#3a3aee)"></div>
<div class="a" style="left:9px;top:67px;width:109px;height:33px;background:linear-gradient(#3030e8,#0000c0 70%,#0000b4)"></div>
<div class="a" style="left:120px;top:67px;width:108px;height:33px;background:linear-gradient(#3030e8,#0000c0 70%,#0000b4)"></div>
<div class="a" style="left:13px;top:66px;width:44px;height:1px;background:#8888f4"></div>
<div class="a" style="left:180px;top:66px;width:44px;height:1px;background:#8888f4"></div>
<div class="a" style="left:61px;top:43px;width:115px;height:24px;background:#fff"></div>
<div class="a" style="left:63px;top:43px;width:111px;height:22px;background:#fff;border:1px solid #b4b4b4"></div>
<div class="a" style="left:64px;top:44px;width:20px;height:20px;background:linear-gradient(#e4e4e4,#c4c4c4);border:1px solid #b0b0b0"></div>
<div class="a" style="left:153px;top:44px;width:20px;height:20px;background:linear-gradient(#e4e4e4,#c4c4c4);border:1px solid #b0b0b0"></div>
<div class="a" style="left:71px;top:52px;width:0;height:0;border-left:3px solid transparent;border-right:3px solid transparent;border-top:3px solid #5060b0"></div>
<div class="a" style="left:160px;top:52px;width:0;height:0;border-left:3px solid transparent;border-right:3px solid transparent;border-bottom:3px solid #5060b0"></div>
<div class="a" style="left:100px;top:47px;width:49px;text-align:right;font-size:12.5px;line-height:14px">3.00</div>
<div class="a" style="left:8px;top:48px;width:52px;text-align:center;font-size:12.5px;line-height:14px;color:#fff;transform:scaleX(.84)">SELL</div>
<div class="a" style="left:175px;top:48px;width:52px;text-align:center;font-size:12.5px;line-height:14px;color:#fff;transform:scaleX(.93)">BUY</div>
<div class="a" style="left:29.5px;top:85px;font-size:12px;font-weight:bold;line-height:13px;color:#fff">1.15</div>
<div class="a" style="left:139.5px;top:85px;font-size:12px;font-weight:bold;line-height:13px;color:#fff">1.15</div>
<div class="a" id="big1" style="left:55.7px;top:66px;font-size:34px;line-height:34px;color:#fff;transform:scaleX(.92);transform-origin:0 50%">98</div>
<div class="a" id="big2" style="left:166.9px;top:66px;font-size:34px;line-height:34px;color:#fff;transform:scaleX(.92);transform-origin:0 50%">99</div>
<div class="a" style="left:96px;top:69px;font-size:12px;font-weight:bold;line-height:13px;color:#fff">5</div>
<div class="a" style="left:207px;top:69px;font-size:12px;font-weight:bold;line-height:13px;color:#fff">8</div>

<div class="a" style="left:0;top:680px;width:1208px;height:31px;background:#f0f0f0"></div>
<div class="a" style="left:0;top:680px;width:1208px;height:1px;background:#e3e3e3"></div>
<div class="a" style="left:110px;top:682px;width:1098px;height:1px;background:#000"></div>
<div class="a" style="left:0;top:682px;width:8px;height:1px;background:#000"></div>
<div class="a" style="left:2px;top:682px;width:1px;height:19px;background:#808080"></div>
<div class="a" style="left:7px;top:682px;width:104px;height:19px;background:#fff;border:1px solid #000;border-top:none"></div>
<div class="a" style="left:8px;top:681px;width:102px;height:2px;background:#fff"></div>
<div class="tab" style="left:19px;color:#000">EURUSD,Daily</div>
<div class="tab" style="left:122px;transform:scaleX(1.003)">AUDUSD,Daily</div><div class="sep" style="left:215px"></div>
<div class="tab" style="left:225px">USDCHF,H4</div><div class="sep" style="left:303px"></div>
<div class="tab" style="left:314px;transform:scaleX(1.003)">USDCAD,Daily</div><div class="sep" style="left:407px"></div>
<div class="tab" style="left:417px;transform:scaleX(1.003)">USDCNH,Daily</div><div class="sep" style="left:512px"></div>
<div class="tab" style="left:523px;transform:scaleX(1.003)">UKOil,H4</div><div class="sep" style="left:586px"></div>
<div class="tab" style="left:597px">DJ30,H1</div><div class="sep" style="left:655px"></div>
<div class="tab" style="left:667px">USDX,H1</div><div class="sep" style="left:730px"></div>
<div class="tab" style="left:742px">XAUUSD,H4</div><div class="sep" style="left:822px"></div>
<div class="tab" style="left:835px">GBPUSD,H1</div><div class="sep" style="left:915px"></div>
<div class="tab" style="left:926px;transform:scaleX(1.003)">USDX,Weekly</div><div class="sep" style="left:1015px"></div>
<div class="a" style="left:1183.5px;top:687.5px;width:0;height:0;border-top:4px solid transparent;border-bottom:4px solid transparent;border-right:4px solid #8a8a8a"></div>
<div class="a" style="left:1203px;top:687.5px;width:0;height:0;border-top:4px solid transparent;border-bottom:4px solid transparent;border-left:4px solid #8a8a8a"></div>
<div class="a" style="left:0;top:702px;width:1208px;height:4px;background:linear-gradient(#f6f6f6,#fff 40%)"></div>
<div class="a" style="left:0;top:706px;width:1208px;height:1px;background:#a0a0a0"></div>
<div class="a" style="left:0;top:707px;width:1208px;height:4px;background:#fff"></div>
</body></html>
